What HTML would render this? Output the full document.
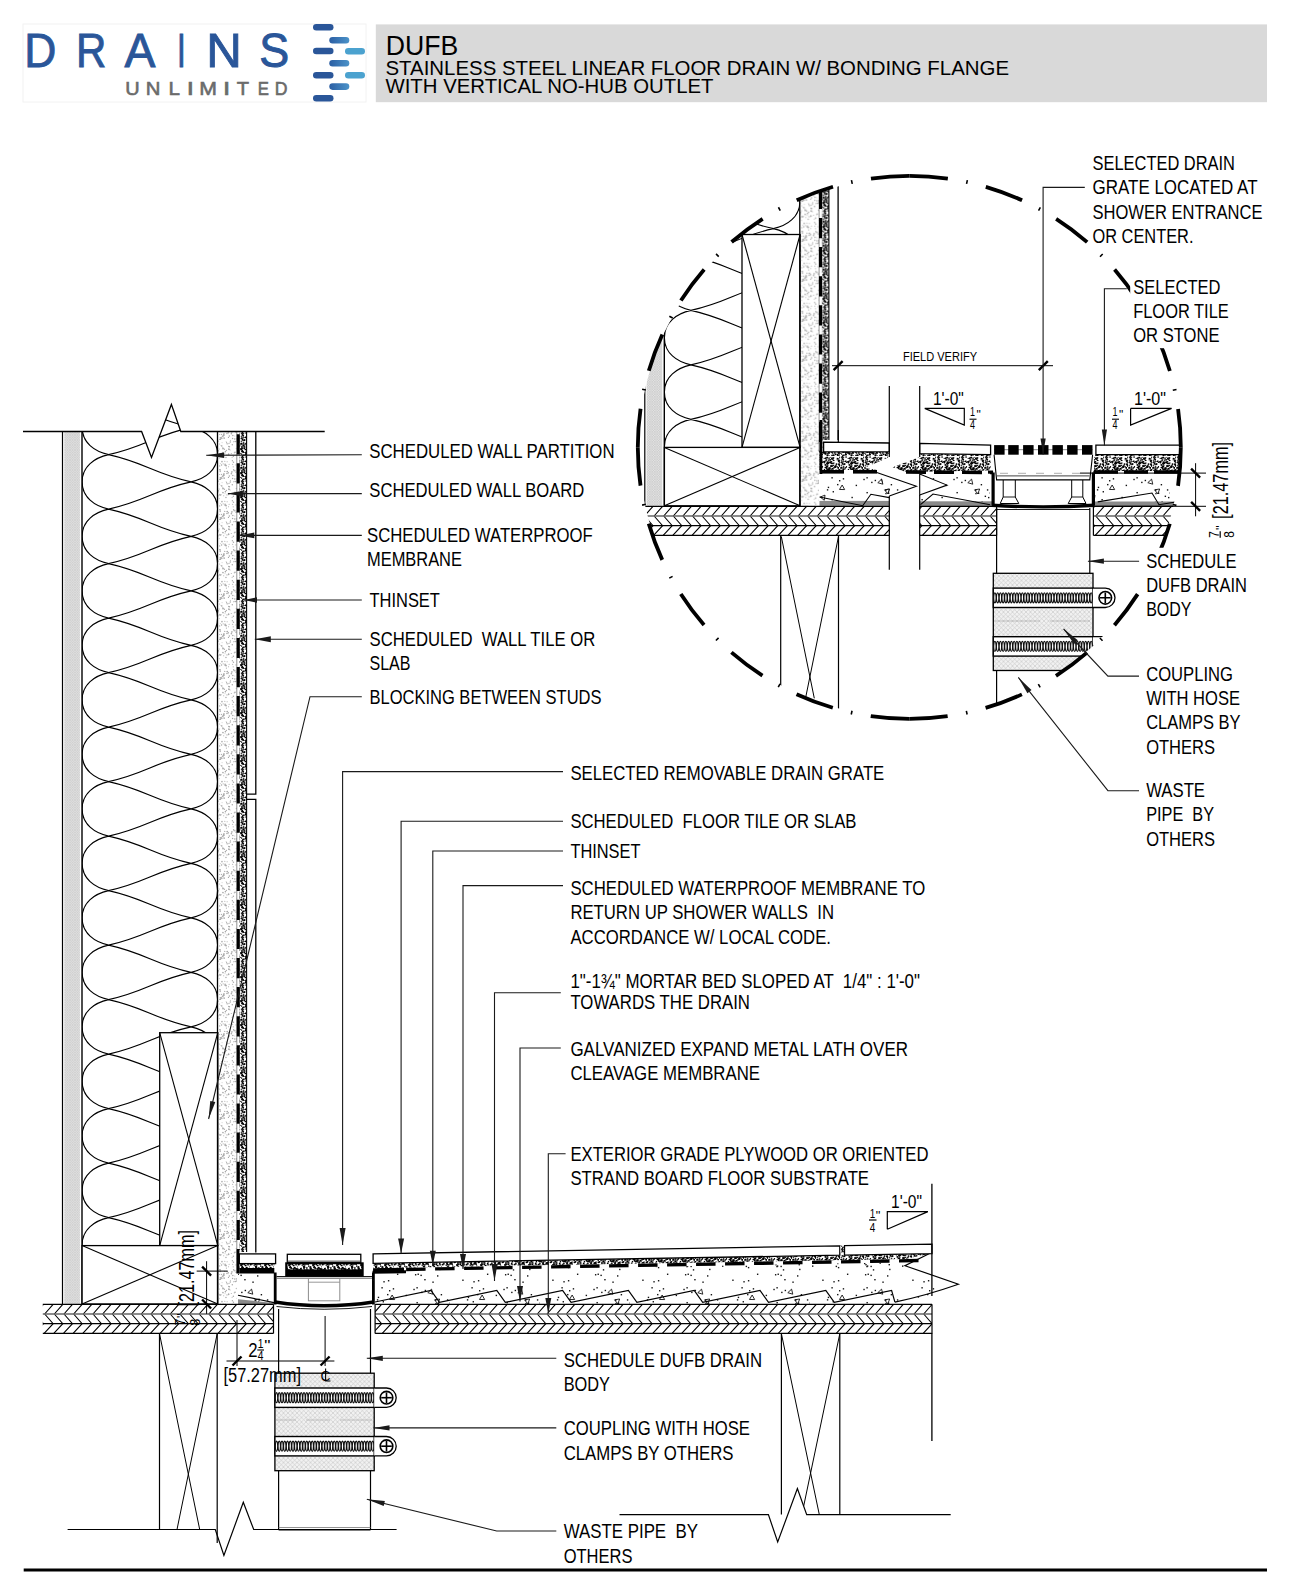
<!DOCTYPE html><html><head><meta charset="utf-8"><style>html,body{margin:0;padding:0;background:#fff;}svg{display:block;}</style></head><body><svg width="1290" height="1572" viewBox="0 0 1290 1572" style="font-family:&quot;Liberation Sans&quot;, sans-serif">
<defs><pattern id="gyp" patternUnits="userSpaceOnUse" width="40" height="40"><circle cx="5.37" cy="33.9" r="0.76" fill="#a8a8a8"/><circle cx="10.2" cy="19.82" r="0.63" fill="#a8a8a8"/><circle cx="26.06" cy="31.55" r="0.49" fill="#a8a8a8"/><circle cx="1.13" cy="33.43" r="0.62" fill="#a8a8a8"/><circle cx="30.49" cy="0.08" r="0.63" fill="#a8a8a8"/><circle cx="28.86" cy="9.15" r="0.83" fill="#a8a8a8"/><circle cx="36.06" cy="1.22" r="0.46" fill="#a8a8a8"/><circle cx="21.66" cy="37.57" r="0.6" fill="#a8a8a8"/><circle cx="8.66" cy="16.88" r="0.46" fill="#a8a8a8"/><circle cx="8.87" cy="17.52" r="0.65" fill="#a8a8a8"/><circle cx="9.32" cy="9.23" r="0.54" fill="#a8a8a8"/><circle cx="18.38" cy="11.59" r="0.46" fill="#a8a8a8"/><circle cx="33.5" cy="22.26" r="0.71" fill="#a8a8a8"/><circle cx="7.44" cy="39.7" r="0.79" fill="#a8a8a8"/><circle cx="4.84" cy="13.31" r="0.74" fill="#a8a8a8"/><circle cx="28.45" cy="37.46" r="0.62" fill="#a8a8a8"/><circle cx="33.2" cy="26.81" r="0.57" fill="#a8a8a8"/><circle cx="23.5" cy="35.3" r="0.79" fill="#a8a8a8"/><circle cx="20.21" cy="23.56" r="0.46" fill="#a8a8a8"/><circle cx="9.71" cy="31.9" r="0.62" fill="#a8a8a8"/><circle cx="6.92" cy="21.95" r="0.73" fill="#a8a8a8"/><circle cx="26.98" cy="14.99" r="0.63" fill="#a8a8a8"/><circle cx="20.34" cy="31.14" r="0.66" fill="#a8a8a8"/><circle cx="15.73" cy="19.59" r="0.46" fill="#a8a8a8"/><circle cx="1.74" cy="28.14" r="0.84" fill="#a8a8a8"/><circle cx="23.73" cy="15.74" r="0.52" fill="#a8a8a8"/><circle cx="20.09" cy="39.28" r="0.76" fill="#a8a8a8"/><circle cx="21.58" cy="34.41" r="0.54" fill="#a8a8a8"/><circle cx="20.55" cy="38.1" r="0.68" fill="#a8a8a8"/><circle cx="18.37" cy="10.77" r="0.67" fill="#a8a8a8"/><circle cx="38.28" cy="0.23" r="0.76" fill="#a8a8a8"/><circle cx="32.82" cy="35.45" r="0.75" fill="#a8a8a8"/><circle cx="32.37" cy="20.75" r="0.67" fill="#a8a8a8"/><circle cx="17.04" cy="2.24" r="0.8" fill="#a8a8a8"/><circle cx="22.8" cy="7.99" r="0.65" fill="#a8a8a8"/><circle cx="19.4" cy="14.27" r="0.59" fill="#a8a8a8"/><circle cx="21.54" cy="24.94" r="0.69" fill="#a8a8a8"/><circle cx="18.33" cy="1.12" r="0.54" fill="#a8a8a8"/><circle cx="7.09" cy="23.38" r="0.79" fill="#a8a8a8"/><circle cx="31.94" cy="31.88" r="0.78" fill="#a8a8a8"/><circle cx="10.21" cy="33.67" r="0.72" fill="#a8a8a8"/><circle cx="3.33" cy="0.67" r="0.46" fill="#a8a8a8"/><circle cx="30.22" cy="9.98" r="0.49" fill="#a8a8a8"/><circle cx="24.99" cy="13.78" r="0.48" fill="#a8a8a8"/><circle cx="6.39" cy="21.1" r="0.52" fill="#a8a8a8"/><circle cx="10.92" cy="28.46" r="0.63" fill="#a8a8a8"/><circle cx="12.88" cy="18.95" r="0.46" fill="#a8a8a8"/><circle cx="15.46" cy="16.84" r="0.53" fill="#a8a8a8"/><circle cx="4.35" cy="35.99" r="0.65" fill="#a8a8a8"/><circle cx="8.36" cy="24.23" r="0.78" fill="#a8a8a8"/><circle cx="0.83" cy="0.71" r="0.51" fill="#a8a8a8"/><circle cx="28.75" cy="6.41" r="0.73" fill="#a8a8a8"/><circle cx="27.13" cy="21.79" r="0.54" fill="#a8a8a8"/><circle cx="39.02" cy="31.91" r="0.66" fill="#a8a8a8"/><circle cx="8.93" cy="25.94" r="0.61" fill="#a8a8a8"/><circle cx="23.03" cy="12.85" r="0.7" fill="#a8a8a8"/><circle cx="2.35" cy="11.94" r="0.84" fill="#a8a8a8"/><circle cx="35.02" cy="12.26" r="0.79" fill="#a8a8a8"/><circle cx="12.41" cy="37.57" r="0.75" fill="#a8a8a8"/><circle cx="16.65" cy="10.09" r="0.45" fill="#a8a8a8"/><circle cx="35.15" cy="1.52" r="0.78" fill="#a8a8a8"/><circle cx="38.49" cy="22.81" r="0.52" fill="#a8a8a8"/><circle cx="34.71" cy="38.95" r="0.73" fill="#a8a8a8"/><circle cx="20.35" cy="15.12" r="0.59" fill="#a8a8a8"/><circle cx="8.23" cy="26.97" r="0.62" fill="#a8a8a8"/><circle cx="7.76" cy="4.18" r="0.72" fill="#a8a8a8"/><circle cx="11.84" cy="19.99" r="0.58" fill="#a8a8a8"/><circle cx="34.86" cy="35.99" r="0.46" fill="#a8a8a8"/><circle cx="8.03" cy="13.11" r="0.84" fill="#a8a8a8"/><circle cx="31.31" cy="13.56" r="0.54" fill="#a8a8a8"/><circle cx="26.98" cy="33.51" r="0.82" fill="#a8a8a8"/><circle cx="13.75" cy="35.3" r="0.72" fill="#a8a8a8"/><circle cx="19.38" cy="39.42" r="0.54" fill="#a8a8a8"/><circle cx="29.02" cy="3.39" r="0.52" fill="#a8a8a8"/><circle cx="36.44" cy="8.52" r="0.75" fill="#a8a8a8"/><circle cx="24.01" cy="33.65" r="0.6" fill="#a8a8a8"/><circle cx="13.61" cy="11.65" r="0.8" fill="#a8a8a8"/><circle cx="24.16" cy="38.17" r="0.8" fill="#a8a8a8"/><circle cx="5.41" cy="22.05" r="0.49" fill="#a8a8a8"/><circle cx="1.57" cy="2.93" r="0.8" fill="#a8a8a8"/><circle cx="31.52" cy="33.14" r="0.59" fill="#a8a8a8"/><circle cx="24.61" cy="31.28" r="0.6" fill="#a8a8a8"/><circle cx="22.83" cy="8.95" r="0.48" fill="#a8a8a8"/><circle cx="10.67" cy="35.63" r="0.68" fill="#a8a8a8"/><circle cx="37" cy="18.31" r="0.56" fill="#a8a8a8"/><circle cx="31.48" cy="33.11" r="0.45" fill="#a8a8a8"/><circle cx="26.82" cy="3.67" r="0.5" fill="#a8a8a8"/><circle cx="35.4" cy="1.6" r="0.55" fill="#a8a8a8"/><circle cx="39.53" cy="16.84" r="0.5" fill="#a8a8a8"/><circle cx="6.7" cy="9.66" r="0.75" fill="#a8a8a8"/><circle cx="4.11" cy="36.43" r="0.6" fill="#a8a8a8"/><circle cx="38.81" cy="36.37" r="0.57" fill="#a8a8a8"/><circle cx="10.14" cy="19.08" r="0.49" fill="#a8a8a8"/><circle cx="26.08" cy="1.58" r="0.45" fill="#a8a8a8"/><circle cx="39.3" cy="11.82" r="0.69" fill="#a8a8a8"/><circle cx="17.99" cy="12.53" r="0.48" fill="#a8a8a8"/><circle cx="36.54" cy="38.79" r="0.84" fill="#a8a8a8"/><circle cx="4.45" cy="8.61" r="0.7" fill="#a8a8a8"/><circle cx="39.2" cy="21.72" r="0.73" fill="#a8a8a8"/><circle cx="26.47" cy="10.36" r="0.67" fill="#a8a8a8"/><circle cx="12.29" cy="9.86" r="0.48" fill="#a8a8a8"/><circle cx="11.23" cy="39.34" r="0.63" fill="#a8a8a8"/><circle cx="26.08" cy="25.74" r="0.83" fill="#a8a8a8"/><circle cx="15.62" cy="12.27" r="0.58" fill="#a8a8a8"/><circle cx="12.67" cy="33.89" r="0.81" fill="#a8a8a8"/><circle cx="12.11" cy="13.37" r="0.67" fill="#a8a8a8"/><circle cx="23.16" cy="23.84" r="0.55" fill="#a8a8a8"/><circle cx="0.81" cy="9.75" r="0.48" fill="#a8a8a8"/><circle cx="22.05" cy="2.84" r="0.48" fill="#a8a8a8"/><circle cx="25.42" cy="11.63" r="0.77" fill="#a8a8a8"/><circle cx="19.73" cy="34.51" r="0.51" fill="#a8a8a8"/><circle cx="20.06" cy="31.8" r="0.48" fill="#a8a8a8"/><circle cx="37.97" cy="6.93" r="0.76" fill="#a8a8a8"/><circle cx="39.4" cy="32.86" r="0.58" fill="#a8a8a8"/><circle cx="4.28" cy="20.57" r="0.82" fill="#a8a8a8"/><circle cx="11.74" cy="35.75" r="0.51" fill="#a8a8a8"/><circle cx="36.42" cy="1.27" r="0.58" fill="#a8a8a8"/><circle cx="36.12" cy="32.15" r="0.81" fill="#a8a8a8"/><circle cx="33.63" cy="29.85" r="0.73" fill="#a8a8a8"/><circle cx="7.13" cy="17.31" r="0.51" fill="#a8a8a8"/><circle cx="28.59" cy="26.71" r="0.55" fill="#a8a8a8"/><circle cx="2.58" cy="38.54" r="0.77" fill="#a8a8a8"/><circle cx="21.97" cy="21.66" r="0.79" fill="#a8a8a8"/><circle cx="18.13" cy="15.83" r="0.59" fill="#a8a8a8"/><circle cx="10.32" cy="0.98" r="0.71" fill="#a8a8a8"/><circle cx="16.67" cy="22.82" r="0.47" fill="#a8a8a8"/><circle cx="14.2" cy="5.53" r="0.5" fill="#a8a8a8"/><circle cx="10.36" cy="33.16" r="0.61" fill="#a8a8a8"/><circle cx="16.04" cy="24.5" r="0.54" fill="#a8a8a8"/><circle cx="0.3" cy="21.15" r="0.65" fill="#a8a8a8"/><circle cx="25.95" cy="17.53" r="0.72" fill="#a8a8a8"/><circle cx="29.26" cy="9.53" r="0.65" fill="#a8a8a8"/><circle cx="19.15" cy="9" r="0.61" fill="#a8a8a8"/><circle cx="22.42" cy="36.28" r="0.82" fill="#a8a8a8"/><circle cx="11.01" cy="25.86" r="0.47" fill="#a8a8a8"/><circle cx="2.86" cy="20.47" r="0.8" fill="#a8a8a8"/><circle cx="6.38" cy="30.64" r="0.8" fill="#a8a8a8"/><circle cx="12.47" cy="27.7" r="0.79" fill="#a8a8a8"/><circle cx="14.86" cy="28.05" r="0.74" fill="#a8a8a8"/><circle cx="23.78" cy="34.25" r="0.81" fill="#a8a8a8"/><circle cx="38.4" cy="22.85" r="0.52" fill="#a8a8a8"/><circle cx="10.02" cy="8.7" r="0.68" fill="#a8a8a8"/><circle cx="30.31" cy="2.09" r="0.72" fill="#a8a8a8"/><circle cx="28.69" cy="13.92" r="0.66" fill="#a8a8a8"/><circle cx="6.59" cy="29.2" r="0.47" fill="#a8a8a8"/><circle cx="39.25" cy="32.32" r="0.7" fill="#a8a8a8"/><circle cx="10.7" cy="36.51" r="0.83" fill="#a8a8a8"/><circle cx="5.57" cy="31.03" r="0.79" fill="#a8a8a8"/><circle cx="26.39" cy="28.02" r="0.63" fill="#a8a8a8"/><circle cx="36.97" cy="38.85" r="0.6" fill="#a8a8a8"/><circle cx="32.11" cy="17.32" r="0.52" fill="#a8a8a8"/><circle cx="13.02" cy="5.05" r="0.81" fill="#a8a8a8"/><circle cx="38.38" cy="4.77" r="0.69" fill="#a8a8a8"/><circle cx="16.33" cy="4.72" r="0.57" fill="#a8a8a8"/><circle cx="9.93" cy="29.98" r="0.45" fill="#a8a8a8"/><circle cx="7.59" cy="17.55" r="0.46" fill="#a8a8a8"/><circle cx="25.1" cy="24.23" r="0.78" fill="#a8a8a8"/><circle cx="8.26" cy="11.39" r="0.67" fill="#a8a8a8"/><circle cx="10.93" cy="23.43" r="0.55" fill="#a8a8a8"/><circle cx="27.34" cy="31.64" r="0.77" fill="#a8a8a8"/><circle cx="38.94" cy="21.82" r="0.65" fill="#a8a8a8"/><circle cx="34.23" cy="30.76" r="0.68" fill="#a8a8a8"/><circle cx="15.33" cy="11.36" r="0.49" fill="#a8a8a8"/><circle cx="32.3" cy="4.72" r="0.75" fill="#a8a8a8"/><circle cx="21.81" cy="38.6" r="0.75" fill="#a8a8a8"/><circle cx="38.94" cy="5.46" r="0.65" fill="#a8a8a8"/><circle cx="22.9" cy="12.45" r="0.65" fill="#a8a8a8"/><circle cx="14.27" cy="21.14" r="0.45" fill="#a8a8a8"/><circle cx="17.69" cy="17.98" r="0.57" fill="#a8a8a8"/><circle cx="15.98" cy="31.32" r="0.72" fill="#a8a8a8"/><circle cx="19.69" cy="25.91" r="0.6" fill="#a8a8a8"/><circle cx="8.16" cy="0.16" r="0.56" fill="#a8a8a8"/><circle cx="23.93" cy="35.27" r="0.78" fill="#a8a8a8"/><circle cx="20.44" cy="39.48" r="0.63" fill="#a8a8a8"/><circle cx="33.38" cy="16.36" r="0.75" fill="#a8a8a8"/><circle cx="39.5" cy="12.21" r="0.52" fill="#a8a8a8"/><circle cx="24.8" cy="21.24" r="0.59" fill="#a8a8a8"/><circle cx="0.14" cy="15.57" r="0.62" fill="#a8a8a8"/><circle cx="16.21" cy="34.45" r="0.68" fill="#a8a8a8"/><circle cx="29.35" cy="35.92" r="0.75" fill="#a8a8a8"/><circle cx="19.71" cy="29.83" r="0.71" fill="#a8a8a8"/><circle cx="25.95" cy="25.19" r="0.61" fill="#a8a8a8"/><circle cx="25.17" cy="25.35" r="0.82" fill="#a8a8a8"/><circle cx="31.3" cy="33.85" r="0.76" fill="#a8a8a8"/><circle cx="32.61" cy="24.22" r="0.59" fill="#a8a8a8"/><circle cx="10.58" cy="28.32" r="0.8" fill="#a8a8a8"/><circle cx="21.77" cy="6.08" r="0.78" fill="#a8a8a8"/><circle cx="19.38" cy="18.68" r="0.47" fill="#a8a8a8"/><circle cx="20.41" cy="29.79" r="0.62" fill="#a8a8a8"/><circle cx="14.21" cy="26.27" r="0.46" fill="#a8a8a8"/><circle cx="20.29" cy="37.85" r="0.73" fill="#a8a8a8"/><circle cx="16.08" cy="27.56" r="0.69" fill="#a8a8a8"/><circle cx="8.36" cy="8.31" r="0.8" fill="#a8a8a8"/><circle cx="10.76" cy="3" r="0.78" fill="#a8a8a8"/><circle cx="20.93" cy="14.73" r="0.65" fill="#a8a8a8"/><circle cx="29.47" cy="6.74" r="0.71" fill="#a8a8a8"/><circle cx="28.54" cy="32.6" r="0.56" fill="#a8a8a8"/><circle cx="24.39" cy="9.28" r="0.67" fill="#a8a8a8"/><circle cx="6.89" cy="31.59" r="0.8" fill="#a8a8a8"/><circle cx="13.19" cy="8.89" r="0.84" fill="#a8a8a8"/><circle cx="28.27" cy="33.75" r="0.46" fill="#a8a8a8"/><circle cx="35.98" cy="24.9" r="0.58" fill="#a8a8a8"/><circle cx="17.27" cy="30.46" r="0.76" fill="#a8a8a8"/><circle cx="7.6" cy="25.04" r="0.52" fill="#a8a8a8"/><circle cx="38.92" cy="17.74" r="0.82" fill="#a8a8a8"/><circle cx="29.13" cy="24.25" r="0.55" fill="#a8a8a8"/><circle cx="21.06" cy="5.54" r="0.51" fill="#a8a8a8"/><circle cx="28.63" cy="14.44" r="0.75" fill="#a8a8a8"/><circle cx="9.62" cy="28.73" r="0.74" fill="#a8a8a8"/><circle cx="12.22" cy="4.26" r="0.61" fill="#a8a8a8"/><circle cx="19.69" cy="4" r="0.52" fill="#a8a8a8"/><circle cx="2.21" cy="23.9" r="0.81" fill="#a8a8a8"/><circle cx="8.66" cy="1.39" r="0.73" fill="#a8a8a8"/><circle cx="32.6" cy="38.56" r="0.7" fill="#a8a8a8"/><circle cx="13.7" cy="33.51" r="0.5" fill="#a8a8a8"/><circle cx="27.71" cy="3.81" r="0.61" fill="#a8a8a8"/><circle cx="19.8" cy="15.12" r="0.52" fill="#a8a8a8"/><circle cx="9.27" cy="32.81" r="0.64" fill="#a8a8a8"/><circle cx="23.2" cy="8.48" r="0.74" fill="#a8a8a8"/><circle cx="13.2" cy="23.74" r="0.81" fill="#a8a8a8"/><circle cx="39.78" cy="1.85" r="0.77" fill="#a8a8a8"/><circle cx="34.3" cy="12.78" r="0.6" fill="#a8a8a8"/><circle cx="23.21" cy="36.75" r="0.61" fill="#a8a8a8"/><circle cx="35.2" cy="30.34" r="0.51" fill="#a8a8a8"/><circle cx="36.55" cy="0.61" r="0.51" fill="#a8a8a8"/><circle cx="26.59" cy="2.28" r="0.6" fill="#a8a8a8"/><circle cx="5.2" cy="18.52" r="0.79" fill="#a8a8a8"/><circle cx="36.24" cy="1.42" r="0.47" fill="#a8a8a8"/><circle cx="33.62" cy="1.71" r="0.56" fill="#a8a8a8"/><circle cx="4.7" cy="3.64" r="0.46" fill="#a8a8a8"/></pattern><pattern id="thin" patternUnits="userSpaceOnUse" width="24" height="24"><rect width="24" height="24" fill="#fff"/><rect x="22.94" y="22.75" width="0.86" height="0.88" fill="#000"/><rect x="20.05" y="17.66" width="1.47" height="1.11" fill="#000"/><rect x="14.54" y="14.56" width="1.38" height="0.96" fill="#000"/><rect x="10.34" y="9.44" width="1.52" height="1.79" fill="#000"/><rect x="22.79" y="13.06" width="1.24" height="1.07" fill="#000"/><rect x="0.86" y="0.66" width="1.26" height="1.12" fill="#000"/><rect x="9.12" y="21.4" width="1.33" height="1.36" fill="#000"/><rect x="5.67" y="0.57" width="1.13" height="0.94" fill="#000"/><rect x="12.25" y="23.97" width="1.47" height="0.98" fill="#000"/><rect x="21.45" y="19.12" width="1.53" height="1.71" fill="#000"/><rect x="18.31" y="18.95" width="1.15" height="1.78" fill="#000"/><rect x="23.09" y="3.87" width="1.55" height="1.52" fill="#000"/><rect x="11.07" y="12.73" width="1.29" height="1.72" fill="#000"/><rect x="12.02" y="19.96" width="1.15" height="1.68" fill="#000"/><rect x="21.59" y="11.06" width="1.37" height="1.72" fill="#000"/><rect x="17.37" y="11.68" width="1.02" height="1.12" fill="#000"/><rect x="16.79" y="3.99" width="1.71" height="1.07" fill="#000"/><rect x="21.87" y="7.43" width="1.76" height="1.51" fill="#000"/><rect x="12.1" y="12.43" width="1.45" height="1.39" fill="#000"/><rect x="7.48" y="4.99" width="1.31" height="1.73" fill="#000"/><rect x="14.96" y="1.81" width="1.62" height="1.53" fill="#000"/><rect x="21.78" y="4.59" width="1.54" height="0.86" fill="#000"/><rect x="15.67" y="6.55" width="1.03" height="1.68" fill="#000"/><rect x="2.55" y="12.54" width="1.65" height="1.04" fill="#000"/><rect x="5.05" y="21.13" width="1.22" height="1.52" fill="#000"/><rect x="0.76" y="8.7" width="0.97" height="1.47" fill="#000"/><rect x="1.99" y="22.91" width="0.83" height="1.53" fill="#000"/><rect x="0.51" y="6.14" width="1.61" height="0.96" fill="#000"/><rect x="4.41" y="16.6" width="1.19" height="0.84" fill="#000"/><rect x="23.76" y="3.63" width="0.84" height="1.14" fill="#000"/><rect x="14.77" y="17.82" width="0.91" height="1.14" fill="#000"/><rect x="0.74" y="10.77" width="1.57" height="1.54" fill="#000"/><rect x="21.65" y="18.14" width="1.66" height="1.51" fill="#000"/><rect x="11.35" y="5.41" width="1.46" height="1.12" fill="#000"/><rect x="2.45" y="10.75" width="1.67" height="0.93" fill="#000"/><rect x="14.04" y="9.43" width="1.31" height="0.94" fill="#000"/><rect x="23.03" y="6.22" width="1.41" height="1.22" fill="#000"/><rect x="0.43" y="13.39" width="0.94" height="0.86" fill="#000"/><rect x="0.81" y="3.87" width="0.9" height="1.44" fill="#000"/><rect x="12.2" y="23.6" width="1.73" height="1.79" fill="#000"/><rect x="5.58" y="10.67" width="1.05" height="1.39" fill="#000"/><rect x="14.98" y="19.2" width="1.51" height="1.06" fill="#000"/><rect x="10.15" y="12.63" width="0.8" height="0.84" fill="#000"/><rect x="9.81" y="2.67" width="1.52" height="1.04" fill="#000"/><rect x="2.39" y="4.36" width="1.03" height="1.02" fill="#000"/><rect x="12.5" y="11.15" width="1.11" height="1.44" fill="#000"/><rect x="5.1" y="21.76" width="1.76" height="1.53" fill="#000"/><rect x="10.41" y="12.28" width="1.38" height="0.85" fill="#000"/><rect x="10.03" y="12.6" width="0.98" height="0.89" fill="#000"/><rect x="19.26" y="8.79" width="1.32" height="1.72" fill="#000"/><rect x="14.65" y="6.95" width="1.78" height="1.17" fill="#000"/><rect x="0.46" y="16.45" width="0.9" height="1.11" fill="#000"/><rect x="20.17" y="16.14" width="0.82" height="1.25" fill="#000"/><rect x="9.86" y="11.66" width="1.01" height="1.39" fill="#000"/><rect x="1.77" y="6.82" width="1.17" height="1.74" fill="#000"/><rect x="1.84" y="18.12" width="0.99" height="1.37" fill="#000"/><rect x="9.4" y="11.12" width="1.55" height="1.2" fill="#000"/><rect x="2.92" y="2.92" width="0.88" height="1.65" fill="#000"/><rect x="15.38" y="23.03" width="1.49" height="0.82" fill="#000"/><rect x="15.82" y="18.65" width="1.52" height="1.3" fill="#000"/><rect x="8.58" y="10.97" width="1.6" height="1.07" fill="#000"/><rect x="12.63" y="11.46" width="1.75" height="1.6" fill="#000"/><rect x="22.37" y="20.06" width="1.1" height="1.03" fill="#000"/><rect x="11.73" y="6.23" width="1.23" height="1.48" fill="#000"/><rect x="22.05" y="14.06" width="1.62" height="0.9" fill="#000"/><rect x="8.55" y="23.95" width="0.95" height="1.22" fill="#000"/><rect x="1.6" y="2.07" width="1.7" height="1.79" fill="#000"/><rect x="15.55" y="3.08" width="1.1" height="1.03" fill="#000"/><rect x="16.1" y="16.35" width="1.24" height="1.32" fill="#000"/><rect x="2.69" y="12.98" width="1.75" height="1.56" fill="#000"/><rect x="2.31" y="12.4" width="1.52" height="1.06" fill="#000"/><rect x="21.48" y="11.06" width="1.5" height="1.2" fill="#000"/><rect x="23.88" y="18.79" width="1.37" height="0.94" fill="#000"/><rect x="10.59" y="0.71" width="1.4" height="1.68" fill="#000"/><rect x="4.33" y="12.24" width="1.28" height="1.2" fill="#000"/><rect x="17.05" y="22.48" width="1.51" height="1.27" fill="#000"/><rect x="23.09" y="7.94" width="1.55" height="1.46" fill="#000"/><rect x="18.28" y="20.45" width="1.02" height="1.42" fill="#000"/><rect x="9.67" y="16.01" width="1.78" height="1.43" fill="#000"/><rect x="0.28" y="11.15" width="1.51" height="1.68" fill="#000"/><rect x="15.6" y="19.59" width="0.82" height="1.74" fill="#000"/><rect x="17.51" y="14.55" width="1.71" height="1.68" fill="#000"/><rect x="2.41" y="19.57" width="1.57" height="1" fill="#000"/><rect x="17.86" y="14.07" width="0.99" height="1.6" fill="#000"/><rect x="3.31" y="14.7" width="1.23" height="1.05" fill="#000"/><rect x="13.59" y="11.21" width="1" height="1.77" fill="#000"/><rect x="1.75" y="0.07" width="1.29" height="1.64" fill="#000"/><rect x="15.8" y="18.11" width="1.29" height="1.47" fill="#000"/><rect x="8.04" y="6.41" width="1.3" height="0.83" fill="#000"/><rect x="1.92" y="18.1" width="0.97" height="1.55" fill="#000"/><rect x="18.83" y="9.71" width="1.47" height="1.59" fill="#000"/><rect x="20.74" y="3.24" width="0.96" height="1.18" fill="#000"/><rect x="11.15" y="7.08" width="0.81" height="1.36" fill="#000"/><rect x="23.21" y="8.8" width="1.34" height="1.18" fill="#000"/><rect x="10.63" y="20.89" width="1.11" height="1.45" fill="#000"/><rect x="11.61" y="12.93" width="1.71" height="0.88" fill="#000"/><rect x="19.78" y="7.3" width="1.45" height="1.6" fill="#000"/><rect x="15.68" y="9.43" width="1.64" height="0.89" fill="#000"/><rect x="15.2" y="9.39" width="1.33" height="1.65" fill="#000"/><rect x="19.15" y="15.09" width="1.11" height="1.03" fill="#000"/><rect x="10.98" y="5.57" width="1.08" height="1.76" fill="#000"/><rect x="2.69" y="19.65" width="1.18" height="1.16" fill="#000"/><rect x="7.64" y="1.86" width="1.26" height="0.97" fill="#000"/><rect x="10.61" y="7.01" width="1.69" height="1.72" fill="#000"/><rect x="10.61" y="15.35" width="1.73" height="1.13" fill="#000"/><rect x="2.39" y="5.71" width="0.99" height="1.48" fill="#000"/><rect x="8.97" y="8.55" width="1.6" height="1.03" fill="#000"/><rect x="19.4" y="15.19" width="1.2" height="1.62" fill="#000"/><rect x="8.21" y="21.09" width="1.73" height="1.3" fill="#000"/><rect x="16.56" y="22.77" width="1.54" height="1.55" fill="#000"/><rect x="20.86" y="22.45" width="1.55" height="1.78" fill="#000"/><rect x="7" y="14.94" width="1.47" height="1.17" fill="#000"/><rect x="9.48" y="4.19" width="1.76" height="1.15" fill="#000"/><rect x="11.44" y="21.45" width="0.99" height="1.76" fill="#000"/><rect x="3.05" y="0.67" width="1.15" height="1.16" fill="#000"/><rect x="22.02" y="21.2" width="1.56" height="1.24" fill="#000"/><rect x="13.02" y="5.68" width="1.63" height="1.19" fill="#000"/><rect x="6.83" y="15.31" width="0.95" height="1.12" fill="#000"/><rect x="22.23" y="2.28" width="0.94" height="1" fill="#000"/><rect x="6.02" y="10.09" width="1.05" height="1.14" fill="#000"/><rect x="5.92" y="5.76" width="1.41" height="1.14" fill="#000"/><rect x="8.95" y="18.43" width="0.86" height="0.94" fill="#000"/><rect x="20.42" y="10.31" width="1.58" height="0.93" fill="#000"/><rect x="12.55" y="20.29" width="1.14" height="1.57" fill="#000"/><rect x="14.65" y="9.47" width="1.8" height="1.19" fill="#000"/><rect x="11.37" y="14.87" width="1.12" height="1.64" fill="#000"/><rect x="14.34" y="14.11" width="1.34" height="1.78" fill="#000"/><rect x="23.73" y="20.18" width="1.25" height="1.21" fill="#000"/><rect x="12.59" y="1.11" width="0.91" height="1.8" fill="#000"/><rect x="3.08" y="22.5" width="1.48" height="1.72" fill="#000"/><rect x="1.86" y="7.34" width="1.6" height="0.81" fill="#000"/><rect x="2.54" y="8.42" width="0.97" height="0.95" fill="#000"/><rect x="16.07" y="2.21" width="1.77" height="1.45" fill="#000"/><rect x="1.19" y="21.57" width="1.04" height="1.28" fill="#000"/><rect x="13.41" y="3.33" width="1.3" height="0.86" fill="#000"/><rect x="4.79" y="22.05" width="1.62" height="1.32" fill="#000"/><rect x="16.36" y="21.01" width="0.94" height="1.29" fill="#000"/><rect x="3.16" y="2.8" width="0.91" height="1.01" fill="#000"/><rect x="1.28" y="5.17" width="1.18" height="1.42" fill="#000"/><rect x="20.61" y="21.7" width="1.52" height="1.31" fill="#000"/><rect x="22.01" y="3.91" width="0.91" height="1.62" fill="#000"/><rect x="15.05" y="5.05" width="1.18" height="1.1" fill="#000"/><rect x="10.34" y="10.27" width="1.2" height="1.6" fill="#000"/><rect x="19.48" y="13.5" width="1.27" height="1.08" fill="#000"/><rect x="18.37" y="23.69" width="1.03" height="1.5" fill="#000"/><rect x="16.78" y="15.8" width="0.83" height="1.35" fill="#000"/><rect x="4.85" y="4.66" width="1.38" height="1.45" fill="#000"/><rect x="15.01" y="17.81" width="1.5" height="1.28" fill="#000"/><rect x="1.15" y="18.53" width="1.62" height="1.64" fill="#000"/><rect x="14.35" y="0.92" width="1" height="0.91" fill="#000"/><rect x="15.26" y="13.06" width="0.99" height="1.76" fill="#000"/><rect x="23.47" y="21.58" width="1.26" height="1.09" fill="#000"/><rect x="5.01" y="19.78" width="1.5" height="1.08" fill="#000"/><rect x="21.66" y="13.65" width="1.21" height="1.22" fill="#000"/><rect x="17.29" y="10.93" width="1.46" height="0.92" fill="#000"/><rect x="16.86" y="6.53" width="1.71" height="1.01" fill="#000"/><rect x="8" y="12.91" width="1.19" height="1.33" fill="#000"/><rect x="22.17" y="4.83" width="1.57" height="1.49" fill="#000"/><rect x="18.87" y="10.74" width="1.25" height="1.15" fill="#000"/><rect x="11.36" y="6.11" width="0.99" height="1.28" fill="#000"/><rect x="4.61" y="11.26" width="1.37" height="1.11" fill="#000"/><rect x="4.09" y="14.52" width="1.66" height="1.02" fill="#000"/><rect x="14.78" y="15.81" width="1.68" height="1.48" fill="#000"/><rect x="7.39" y="4.98" width="1.64" height="1.1" fill="#000"/><rect x="0.3" y="20.89" width="1" height="1.11" fill="#000"/><rect x="7.65" y="6.14" width="1.52" height="1.14" fill="#000"/><rect x="10.57" y="10.06" width="1.63" height="0.82" fill="#000"/><rect x="13.92" y="3.16" width="0.95" height="1.41" fill="#000"/><rect x="9.02" y="1.56" width="1.39" height="1.71" fill="#000"/><rect x="15.48" y="11.89" width="1.6" height="1.72" fill="#000"/><rect x="3.63" y="7.18" width="1.76" height="1.73" fill="#000"/><rect x="4.87" y="16.89" width="1.67" height="1.39" fill="#000"/><rect x="16.85" y="12.58" width="1.03" height="1.01" fill="#000"/><rect x="1.49" y="15.98" width="0.94" height="1.42" fill="#000"/><rect x="9.39" y="10.47" width="1.77" height="1.19" fill="#000"/><rect x="11.39" y="9.12" width="1.02" height="1.02" fill="#000"/><rect x="12.78" y="19.62" width="0.89" height="1.75" fill="#000"/><rect x="16.19" y="1.29" width="1.51" height="1.2" fill="#000"/><rect x="12.35" y="2.42" width="1.31" height="1.32" fill="#000"/><rect x="18.78" y="13.94" width="1.5" height="1.53" fill="#000"/><rect x="5.31" y="0.59" width="1.28" height="0.93" fill="#000"/><rect x="3.4" y="7.72" width="1.34" height="1.42" fill="#000"/><rect x="15.51" y="22.62" width="0.9" height="1.36" fill="#000"/><rect x="2.08" y="16.08" width="1.24" height="0.94" fill="#000"/><rect x="7.45" y="15.85" width="1.27" height="1.74" fill="#000"/><rect x="8.52" y="8.16" width="1.72" height="1.41" fill="#000"/><rect x="2.57" y="18.82" width="1.16" height="1.75" fill="#000"/><rect x="15.26" y="19.32" width="1.7" height="1.31" fill="#000"/><rect x="23.21" y="0.61" width="1.14" height="1.64" fill="#000"/><rect x="0.2" y="16.14" width="1.8" height="1.52" fill="#000"/><rect x="20.69" y="1.84" width="1.34" height="1.41" fill="#000"/><rect x="10.45" y="10.07" width="1.59" height="0.96" fill="#000"/><rect x="1.08" y="14.23" width="1.77" height="1.63" fill="#000"/><rect x="16.16" y="7.07" width="1.7" height="0.84" fill="#000"/><rect x="5.92" y="18.91" width="1.69" height="1.2" fill="#000"/><rect x="21.82" y="2.66" width="1.4" height="0.87" fill="#000"/><rect x="5.6" y="4.56" width="0.81" height="1.21" fill="#000"/><rect x="12" y="6.74" width="1.45" height="0.85" fill="#000"/><rect x="12.42" y="12.67" width="1.2" height="1.71" fill="#000"/><rect x="3.04" y="10.25" width="1.26" height="1.17" fill="#000"/><rect x="23.37" y="13.72" width="1.32" height="1.24" fill="#000"/><rect x="10.5" y="22.82" width="1.6" height="1.45" fill="#000"/><rect x="3.9" y="14.27" width="0.93" height="1.15" fill="#000"/><rect x="0.55" y="16.92" width="1.78" height="1.44" fill="#000"/><rect x="13.67" y="6.01" width="1.24" height="1.26" fill="#000"/><rect x="10.15" y="6.47" width="1.02" height="1.55" fill="#000"/><rect x="22.86" y="19.71" width="1.42" height="0.83" fill="#000"/><rect x="7.25" y="20.16" width="1.77" height="1.35" fill="#000"/><rect x="13.65" y="16.47" width="1.05" height="1.51" fill="#000"/><rect x="8.76" y="20.33" width="1.26" height="1.46" fill="#000"/><rect x="13.35" y="12.83" width="1.26" height="1.75" fill="#000"/><rect x="18.12" y="10.08" width="1.31" height="1.7" fill="#000"/><rect x="17.93" y="15.67" width="1.76" height="0.92" fill="#000"/><rect x="14.35" y="14.98" width="1.25" height="1.76" fill="#000"/><rect x="23.22" y="9.37" width="1.42" height="1.57" fill="#000"/><rect x="16.71" y="8.71" width="1.6" height="1.15" fill="#000"/><rect x="3.53" y="15.95" width="1.45" height="1.21" fill="#000"/><rect x="11.97" y="23.71" width="1.61" height="1.21" fill="#000"/><rect x="21.88" y="13.69" width="1.2" height="1.45" fill="#000"/><rect x="18.81" y="21.51" width="1.47" height="1.47" fill="#000"/><rect x="9.62" y="0.97" width="1.25" height="0.91" fill="#000"/><rect x="22.61" y="8.7" width="1.41" height="1.53" fill="#000"/><rect x="4.29" y="20" width="1.13" height="0.88" fill="#000"/><rect x="14.39" y="9.66" width="1.72" height="1.24" fill="#000"/><rect x="2.27" y="0.44" width="0.83" height="1.29" fill="#000"/><rect x="17.14" y="1.23" width="1.13" height="1.28" fill="#000"/><rect x="21.54" y="23.29" width="1.68" height="1.44" fill="#000"/><rect x="13.8" y="5.35" width="1.41" height="0.97" fill="#000"/><rect x="7.28" y="19.92" width="1.37" height="1.53" fill="#000"/><rect x="11.17" y="6.71" width="1.3" height="1.37" fill="#000"/><rect x="5.8" y="20.29" width="1.78" height="0.98" fill="#000"/><rect x="5.81" y="19.47" width="1.52" height="1.02" fill="#000"/><rect x="14.06" y="5.72" width="1.66" height="1.39" fill="#000"/><rect x="12.26" y="3.88" width="1.21" height="1.27" fill="#000"/><rect x="8.68" y="4.32" width="1" height="1.5" fill="#000"/><rect x="22.2" y="20.25" width="1.42" height="1.59" fill="#000"/><rect x="3.21" y="5.04" width="1.5" height="0.8" fill="#000"/><rect x="2.01" y="18.69" width="1" height="0.98" fill="#000"/><rect x="9.49" y="20.08" width="0.81" height="1.68" fill="#000"/><rect x="7.32" y="13.7" width="1.27" height="0.92" fill="#000"/></pattern><pattern id="mort" patternUnits="userSpaceOnUse" width="90" height="90"><rect x="21.42" y="48.98" width="1.4" height="1.4" fill="#111"/><rect x="33.3" y="54.35" width="1.4" height="1.4" fill="#111"/><rect x="56.31" y="5.9" width="1.4" height="1.4" fill="#111"/><rect x="1.19" y="75.37" width="1.4" height="1.4" fill="#111"/><rect x="23.34" y="21.09" width="1.4" height="1.4" fill="#111"/><rect x="89.61" y="42.32" width="1.4" height="1.4" fill="#111"/><rect x="75.28" y="42.87" width="1.4" height="1.4" fill="#111"/><rect x="57.52" y="13.56" width="1.4" height="1.4" fill="#111"/><rect x="57.14" y="78.12" width="1.4" height="1.4" fill="#111"/><rect x="47.09" y="66.71" width="1.4" height="1.4" fill="#111"/><rect x="60.43" y="5.76" width="1.4" height="1.4" fill="#111"/><rect x="68.24" y="53.2" width="1.4" height="1.4" fill="#111"/><rect x="27.11" y="2.79" width="1.4" height="1.4" fill="#111"/><rect x="77.9" y="42.55" width="1.4" height="1.4" fill="#111"/><rect x="64.69" y="79.09" width="1.4" height="1.4" fill="#111"/><rect x="64.27" y="82.9" width="1.4" height="1.4" fill="#111"/><rect x="35.55" y="72.08" width="1.4" height="1.4" fill="#111"/><rect x="40.02" y="84.2" width="1.4" height="1.4" fill="#111"/><rect x="79.1" y="8.77" width="1.4" height="1.4" fill="#111"/><rect x="12.24" y="19.53" width="1.4" height="1.4" fill="#111"/><rect x="86.89" y="39.25" width="1.4" height="1.4" fill="#111"/><rect x="56.4" y="27.09" width="1.4" height="1.4" fill="#111"/><rect x="45.65" y="34.73" width="1.4" height="1.4" fill="#111"/><rect x="31.58" y="52.66" width="1.4" height="1.4" fill="#111"/><rect x="52.58" y="81.38" width="1.4" height="1.4" fill="#111"/><rect x="61.38" y="83.61" width="1.4" height="1.4" fill="#111"/><rect x="77.08" y="89.19" width="1.4" height="1.4" fill="#111"/><rect x="60.41" y="14.68" width="1.4" height="1.4" fill="#111"/><rect x="77.46" y="86.82" width="1.4" height="1.4" fill="#111"/><rect x="81.42" y="51.22" width="1.4" height="1.4" fill="#111"/><rect x="64.24" y="19" width="1.4" height="1.4" fill="#111"/><rect x="74.84" y="51.62" width="1.4" height="1.4" fill="#111"/><rect x="25.65" y="5.71" width="1.4" height="1.4" fill="#111"/><rect x="76.85" y="89.08" width="1.4" height="1.4" fill="#111"/><rect x="7.97" y="72.05" width="1.4" height="1.4" fill="#111"/><rect x="36.94" y="13.57" width="1.4" height="1.4" fill="#111"/><rect x="26.45" y="69.19" width="1.4" height="1.4" fill="#111"/><rect x="78.55" y="3.98" width="1.4" height="1.4" fill="#111"/><rect x="55.31" y="4.04" width="1.4" height="1.4" fill="#111"/><rect x="64.66" y="29.79" width="1.4" height="1.4" fill="#111"/><rect x="79.28" y="88.26" width="1.4" height="1.4" fill="#111"/><rect x="45.49" y="89.87" width="1.4" height="1.4" fill="#111"/><rect x="27.87" y="6.93" width="1.4" height="1.4" fill="#111"/><rect x="53.98" y="2.82" width="1.4" height="1.4" fill="#111"/><rect x="17.76" y="36.71" width="1.4" height="1.4" fill="#111"/><rect x="54.94" y="14.06" width="1.4" height="1.4" fill="#111"/><rect x="3.82" y="78.1" width="1.4" height="1.4" fill="#111"/><rect x="28.24" y="86.28" width="1.4" height="1.4" fill="#111"/><rect x="80.7" y="34" width="1.4" height="1.4" fill="#111"/><rect x="41.44" y="46.81" width="1.4" height="1.4" fill="#111"/><rect x="57.95" y="53.61" width="1.4" height="1.4" fill="#111"/><rect x="50.33" y="55.81" width="1.4" height="1.4" fill="#111"/><rect x="84.66" y="45.63" width="1.4" height="1.4" fill="#111"/><rect x="38.81" y="64.83" width="1.4" height="1.4" fill="#111"/><rect x="21.39" y="27.1" width="1.4" height="1.4" fill="#111"/><rect x="88" y="46.9" width="1.4" height="1.4" fill="#111"/><rect x="49.36" y="1.03" width="1.4" height="1.4" fill="#111"/><rect x="37.37" y="52.2" width="1.4" height="1.4" fill="#111"/><rect x="1.8" y="55.42" width="1.4" height="1.4" fill="#111"/><rect x="56.9" y="5.41" width="1.4" height="1.4" fill="#111"/><rect x="56.46" y="41.96" width="1.4" height="1.4" fill="#111"/><rect x="61.14" y="31.73" width="1.4" height="1.4" fill="#111"/><rect x="63.63" y="66.42" width="1.4" height="1.4" fill="#111"/><rect x="2" y="5.45" width="1.4" height="1.4" fill="#111"/><rect x="60.84" y="86.7" width="1.4" height="1.4" fill="#111"/><rect x="22.6" y="41.07" width="1.4" height="1.4" fill="#111"/><rect x="53.34" y="28.8" width="1.4" height="1.4" fill="#111"/><rect x="32.76" y="28.14" width="1.4" height="1.4" fill="#111"/><rect x="33.22" y="53.61" width="1.4" height="1.4" fill="#111"/><rect x="27.04" y="33.94" width="1.4" height="1.4" fill="#111"/><rect x="69.5" y="2.42" width="1.4" height="1.4" fill="#111"/><rect x="51.23" y="66.17" width="1.4" height="1.4" fill="#111"/><rect x="27.9" y="20.03" width="1.4" height="1.4" fill="#111"/><rect x="72.34" y="21.48" width="1.4" height="1.4" fill="#111"/><rect x="16.87" y="39.17" width="1.4" height="1.4" fill="#111"/><rect x="62.83" y="9.17" width="1.4" height="1.4" fill="#111"/><rect x="28.98" y="30.04" width="1.4" height="1.4" fill="#111"/><rect x="75.02" y="39.46" width="1.4" height="1.4" fill="#111"/><rect x="77" y="15.24" width="1.4" height="1.4" fill="#111"/><rect x="30.3" y="58.52" width="1.4" height="1.4" fill="#111"/><polygon points="77.8,43.86 74.53,39.82 79.66,39" fill="none" stroke="#111" stroke-width="0.9"/><polygon points="14.25,50.28 10.19,47.04 15.03,45.14" fill="none" stroke="#111" stroke-width="0.9"/><polygon points="71.99,76.17 67.79,73.12 72.53,71.01" fill="none" stroke="#111" stroke-width="0.9"/><polygon points="24.51,68.48 29.36,70.34 25.33,73.61" fill="none" stroke="#111" stroke-width="0.9"/><polygon points="72.78,34.19 67.81,32.7 71.58,29.13" fill="none" stroke="#111" stroke-width="0.9"/><polygon points="27.13,72.66 25.14,67.86 30.3,68.54" fill="none" stroke="#111" stroke-width="0.9"/><polygon points="29.47,39.47 32.15,35.02 34.67,39.57" fill="none" stroke="#111" stroke-width="0.9"/><polygon points="39.07,82.82 34.41,80.54 38.72,77.64" fill="none" stroke="#111" stroke-width="0.9"/><polygon points="5.57,80.17 4.09,85.15 0.52,81.38" fill="none" stroke="#111" stroke-width="0.9"/></pattern><pattern id="sheath" patternUnits="userSpaceOnUse" width="2.5" height="2.5"><rect width="2.5" height="2.5" fill="#e2e2e2"/><path d="M0,2.5 L2.5,0 M0,0 L2.5,2.5" stroke="#c4c4c4" stroke-width="0.5"/></pattern><pattern id="coup" patternUnits="userSpaceOnUse" width="4.5" height="4.5"><rect width="4.5" height="4.5" fill="#f1f1f1"/><path d="M0,4.5 L4.5,0 M-1,1 L1,-1 M3.5,5.5 L5.5,3.5 M0,0 L4.5,4.5 M-1,3.5 L1,5.5 M3.5,-1 L5.5,1" stroke="#c6c6c6" stroke-width="0.6"/></pattern><pattern id="thread" patternUnits="userSpaceOnUse" width="2.8" height="13"><rect width="2.8" height="13" fill="#fff"/><ellipse cx="1.4" cy="6.5" rx="1.2" ry="5.3" fill="none" stroke="#111" stroke-width="1.25"/></pattern></defs>
<rect width="1290" height="1572" fill="#fff"/>
<rect x="23" y="24" width="343" height="78" fill="#fff" stroke="#f2f2f2" stroke-width="1"/>
<text transform="translate(24.35,66.5) scale(0.92,1)" font-size="48.3" fill="#2a5699" stroke="#2a5699" stroke-width="0.9">D</text>
<text transform="translate(75.95,66.5) scale(0.87,1)" font-size="48.3" fill="#2a5699" stroke="#2a5699" stroke-width="0.9">R</text>
<text transform="translate(124.51,66.5) scale(0.96,1)" font-size="48.3" fill="#2a5699" stroke="#2a5699" stroke-width="0.9">A</text>
<text transform="translate(177.03,66.5) scale(0.65,1)" font-size="48.3" fill="#2a5699" stroke="#2a5699" stroke-width="0.9">I</text>
<text transform="translate(206.27,66.5) scale(1.02,1)" font-size="48.3" fill="#2a5699" stroke="#2a5699" stroke-width="0.9">N</text>
<text transform="translate(259.24,66.5) scale(0.93,1)" font-size="48.3" fill="#2a5699" stroke="#2a5699" stroke-width="0.9">S</text>
<text transform="translate(125.17,94.8) scale(1.07,1)" font-size="18.6" fill="#6b6b6b" stroke="#6b6b6b" stroke-width="0.6">U</text>
<text transform="translate(145.64,94.8) scale(1.09,1)" font-size="18.6" fill="#6b6b6b" stroke="#6b6b6b" stroke-width="0.6">N</text>
<text transform="translate(168.4,94.8) scale(1.11,1)" font-size="18.6" fill="#6b6b6b" stroke="#6b6b6b" stroke-width="0.6">L</text>
<text transform="translate(186.83,94.8) scale(1.39,1)" font-size="18.6" fill="#6b6b6b" stroke="#6b6b6b" stroke-width="0.6">I</text>
<text transform="translate(199.16,94.8) scale(1.14,1)" font-size="18.6" fill="#6b6b6b" stroke="#6b6b6b" stroke-width="0.6">M</text>
<text transform="translate(222.93,94.8) scale(1.39,1)" font-size="18.6" fill="#6b6b6b" stroke="#6b6b6b" stroke-width="0.6">I</text>
<text transform="translate(236.86,94.8) scale(1.08,1)" font-size="18.6" fill="#6b6b6b" stroke="#6b6b6b" stroke-width="0.6">T</text>
<text transform="translate(257.72,94.8) scale(0.9,1)" font-size="18.6" fill="#6b6b6b" stroke="#6b6b6b" stroke-width="0.6">E</text>
<text transform="translate(274.86,94.8) scale(0.95,1)" font-size="18.6" fill="#6b6b6b" stroke="#6b6b6b" stroke-width="0.6">D</text>
<linearGradient id="bg1" x1="0" x2="1" y1="0" y2="0"><stop offset="0" stop-color="#2b5ea3"/><stop offset="1" stop-color="#4b93c9"/></linearGradient>
<rect x="313" y="24" width="20.5" height="6.6" fill="#2a5699" stroke="none" stroke-width="0" rx="3.3"/>
<rect x="313" y="47.7" width="20.5" height="6.6" fill="#2a5699" stroke="none" stroke-width="0" rx="3.3"/>
<rect x="313" y="71.9" width="20.5" height="6.6" fill="#2a5699" stroke="none" stroke-width="0" rx="3.3"/>
<rect x="313" y="95" width="20.5" height="6.6" fill="#2a5699" stroke="none" stroke-width="0" rx="3.3"/>
<rect x="329.3" y="37" width="20" height="6.6" fill="url(#bg1)" stroke="none" stroke-width="0" rx="3.3"/>
<rect x="329.3" y="60" width="20" height="6.6" fill="url(#bg1)" stroke="none" stroke-width="0" rx="3.3"/>
<rect x="329.3" y="83.3" width="20" height="6.6" fill="url(#bg1)" stroke="none" stroke-width="0" rx="3.3"/>
<rect x="345" y="48" width="20" height="6.6" fill="#4ba2cf" stroke="none" stroke-width="0" rx="3.3"/>
<rect x="345" y="72" width="20" height="6.6" fill="#4ba2cf" stroke="none" stroke-width="0" rx="3.3"/>
<rect x="375.8" y="24.4" width="891.2" height="77.8" fill="#d9d9d9" stroke="none" stroke-width="0" />
<text x="385.7" y="55.4" font-size="27" text-anchor="start" fill="#000" textLength="72.6" lengthAdjust="spacingAndGlyphs" xml:space="preserve" >DUFB</text>
<text x="385.5" y="74.5" font-size="19.5" text-anchor="start" fill="#000" textLength="623.5" lengthAdjust="spacingAndGlyphs" xml:space="preserve" >STAINLESS STEEL LINEAR FLOOR DRAIN W/ BONDING FLANGE</text>
<text x="385.5" y="93.2" font-size="19.5" text-anchor="start" fill="#000" textLength="328" lengthAdjust="spacingAndGlyphs" xml:space="preserve" >WITH VERTICAL NO-HUB OUTLET</text>
<defs><clipPath id="insclip"><polygon points="82,431.5 141.6,431.5 151.5,457.5 171.4,404.4 180.8,431.5 217.6,431.5 217.6,1245.6 82,1245.6"/></clipPath>
</defs>
<rect x="64.3" y="431.5" width="15.6" height="872.5" fill="url(#sheath)" stroke="none" stroke-width="0" />
<line x1="62.5" y1="431.5" x2="62.5" y2="1304" stroke="#000" stroke-width="1.2" />
<line x1="82" y1="431.5" x2="82" y2="1304" stroke="#000" stroke-width="1.4" />
<path d="M108.6,236.6 C94.6,239.68 82.1,248.35 82.1,263.85 C82.1,279.35 94.6,288.02 108.6,291.1M191.1,263.85 C205.1,266.93 217.6,275.6 217.6,291.1 C217.6,306.6 205.1,315.27 191.1,318.35M108.6,236.6 C145.72,244.77 153.97,255.68 191.1,263.85M108.6,291.1 C145.72,282.93 153.97,272.02 191.1,263.85M108.6,291.1 C94.6,294.18 82.1,302.85 82.1,318.35 C82.1,333.85 94.6,342.52 108.6,345.6M191.1,318.35 C205.1,321.43 217.6,330.1 217.6,345.6 C217.6,361.1 205.1,369.77 191.1,372.85M108.6,291.1 C145.72,299.27 153.97,310.18 191.1,318.35M108.6,345.6 C145.72,337.43 153.97,326.52 191.1,318.35M108.6,345.6 C94.6,348.68 82.1,357.35 82.1,372.85 C82.1,388.35 94.6,397.02 108.6,400.1M191.1,372.85 C205.1,375.93 217.6,384.6 217.6,400.1 C217.6,415.6 205.1,424.27 191.1,427.35M108.6,345.6 C145.72,353.77 153.97,364.68 191.1,372.85M108.6,400.1 C145.72,391.93 153.97,381.02 191.1,372.85M108.6,400.1 C94.6,403.18 82.1,411.85 82.1,427.35 C82.1,442.85 94.6,451.52 108.6,454.6M191.1,427.35 C205.1,430.43 217.6,439.1 217.6,454.6 C217.6,470.1 205.1,478.77 191.1,481.85M108.6,400.1 C145.72,408.27 153.97,419.18 191.1,427.35M108.6,454.6 C145.72,446.43 153.97,435.52 191.1,427.35M108.6,454.6 C94.6,457.68 82.1,466.35 82.1,481.85 C82.1,497.35 94.6,506.02 108.6,509.1M191.1,481.85 C205.1,484.93 217.6,493.6 217.6,509.1 C217.6,524.6 205.1,533.27 191.1,536.35M108.6,454.6 C145.72,462.77 153.97,473.68 191.1,481.85M108.6,509.1 C145.72,500.93 153.97,490.02 191.1,481.85M108.6,509.1 C94.6,512.18 82.1,520.85 82.1,536.35 C82.1,551.85 94.6,560.52 108.6,563.6M191.1,536.35 C205.1,539.43 217.6,548.1 217.6,563.6 C217.6,579.1 205.1,587.77 191.1,590.85M108.6,509.1 C145.72,517.27 153.97,528.18 191.1,536.35M108.6,563.6 C145.72,555.43 153.97,544.52 191.1,536.35M108.6,563.6 C94.6,566.68 82.1,575.35 82.1,590.85 C82.1,606.35 94.6,615.02 108.6,618.1M191.1,590.85 C205.1,593.93 217.6,602.6 217.6,618.1 C217.6,633.6 205.1,642.27 191.1,645.35M108.6,563.6 C145.72,571.77 153.97,582.68 191.1,590.85M108.6,618.1 C145.72,609.93 153.97,599.02 191.1,590.85M108.6,618.1 C94.6,621.18 82.1,629.85 82.1,645.35 C82.1,660.85 94.6,669.52 108.6,672.6M191.1,645.35 C205.1,648.43 217.6,657.1 217.6,672.6 C217.6,688.1 205.1,696.77 191.1,699.85M108.6,618.1 C145.72,626.27 153.97,637.18 191.1,645.35M108.6,672.6 C145.72,664.43 153.97,653.52 191.1,645.35M108.6,672.6 C94.6,675.68 82.1,684.35 82.1,699.85 C82.1,715.35 94.6,724.02 108.6,727.1M191.1,699.85 C205.1,702.93 217.6,711.6 217.6,727.1 C217.6,742.6 205.1,751.27 191.1,754.35M108.6,672.6 C145.72,680.77 153.97,691.68 191.1,699.85M108.6,727.1 C145.72,718.93 153.97,708.02 191.1,699.85M108.6,727.1 C94.6,730.18 82.1,738.85 82.1,754.35 C82.1,769.85 94.6,778.52 108.6,781.6M191.1,754.35 C205.1,757.43 217.6,766.1 217.6,781.6 C217.6,797.1 205.1,805.77 191.1,808.85M108.6,727.1 C145.72,735.27 153.97,746.18 191.1,754.35M108.6,781.6 C145.72,773.43 153.97,762.52 191.1,754.35M108.6,781.6 C94.6,784.68 82.1,793.35 82.1,808.85 C82.1,824.35 94.6,833.02 108.6,836.1M191.1,808.85 C205.1,811.93 217.6,820.6 217.6,836.1 C217.6,851.6 205.1,860.27 191.1,863.35M108.6,781.6 C145.72,789.77 153.97,800.68 191.1,808.85M108.6,836.1 C145.72,827.93 153.97,817.02 191.1,808.85M108.6,836.1 C94.6,839.18 82.1,847.85 82.1,863.35 C82.1,878.85 94.6,887.52 108.6,890.6M191.1,863.35 C205.1,866.43 217.6,875.1 217.6,890.6 C217.6,906.1 205.1,914.77 191.1,917.85M108.6,836.1 C145.72,844.27 153.97,855.18 191.1,863.35M108.6,890.6 C145.72,882.43 153.97,871.52 191.1,863.35M108.6,890.6 C94.6,893.68 82.1,902.35 82.1,917.85 C82.1,933.35 94.6,942.02 108.6,945.1M191.1,917.85 C205.1,920.93 217.6,929.6 217.6,945.1 C217.6,960.6 205.1,969.27 191.1,972.35M108.6,890.6 C145.72,898.77 153.97,909.68 191.1,917.85M108.6,945.1 C145.72,936.93 153.97,926.02 191.1,917.85M108.6,945.1 C94.6,948.18 82.1,956.85 82.1,972.35 C82.1,987.85 94.6,996.52 108.6,999.6M191.1,972.35 C205.1,975.43 217.6,984.1 217.6,999.6 C217.6,1015.1 205.1,1023.77 191.1,1026.85M108.6,945.1 C145.72,953.27 153.97,964.18 191.1,972.35M108.6,999.6 C145.72,991.43 153.97,980.52 191.1,972.35M108.6,999.6 C94.6,1002.68 82.1,1011.35 82.1,1026.85 C82.1,1042.35 94.6,1051.02 108.6,1054.1M191.1,1026.85 C205.1,1029.93 217.6,1038.6 217.6,1054.1 C217.6,1069.6 205.1,1078.27 191.1,1081.35M108.6,999.6 C145.72,1007.77 153.97,1018.68 191.1,1026.85M108.6,1054.1 C145.72,1045.93 153.97,1035.02 191.1,1026.85M108.6,1054.1 C94.6,1057.18 82.1,1065.85 82.1,1081.35 C82.1,1096.85 94.6,1105.52 108.6,1108.6M191.1,1081.35 C205.1,1084.43 217.6,1093.1 217.6,1108.6 C217.6,1124.1 205.1,1132.77 191.1,1135.85M108.6,1054.1 C145.72,1062.27 153.97,1073.18 191.1,1081.35M108.6,1108.6 C145.72,1100.43 153.97,1089.52 191.1,1081.35M108.6,1108.6 C94.6,1111.68 82.1,1120.35 82.1,1135.85 C82.1,1151.35 94.6,1160.02 108.6,1163.1M191.1,1135.85 C205.1,1138.93 217.6,1147.6 217.6,1163.1 C217.6,1178.6 205.1,1187.27 191.1,1190.35M108.6,1108.6 C145.72,1116.77 153.97,1127.68 191.1,1135.85M108.6,1163.1 C145.72,1154.93 153.97,1144.02 191.1,1135.85M108.6,1163.1 C94.6,1166.18 82.1,1174.85 82.1,1190.35 C82.1,1205.85 94.6,1214.52 108.6,1217.6M191.1,1190.35 C205.1,1193.43 217.6,1202.1 217.6,1217.6 C217.6,1233.1 205.1,1241.77 191.1,1244.85M108.6,1163.1 C145.72,1171.27 153.97,1182.18 191.1,1190.35M108.6,1217.6 C145.72,1209.43 153.97,1198.52 191.1,1190.35M108.6,1217.6 C94.6,1220.68 82.1,1229.35 82.1,1244.85 C82.1,1260.35 94.6,1269.02 108.6,1272.1M191.1,1244.85 C205.1,1247.93 217.6,1256.6 217.6,1272.1 C217.6,1287.6 205.1,1296.27 191.1,1299.35M108.6,1217.6 C145.72,1225.77 153.97,1236.68 191.1,1244.85M108.6,1272.1 C145.72,1263.93 153.97,1253.02 191.1,1244.85M108.6,1272.1 C94.6,1275.18 82.1,1283.85 82.1,1299.35 C82.1,1314.85 94.6,1323.52 108.6,1326.6M191.1,1299.35 C205.1,1302.43 217.6,1311.1 217.6,1326.6 C217.6,1342.1 205.1,1350.77 191.1,1353.85M108.6,1272.1 C145.72,1280.27 153.97,1291.18 191.1,1299.35M108.6,1326.6 C145.72,1318.43 153.97,1307.52 191.1,1299.35M108.6,1326.6 C94.6,1329.68 82.1,1338.35 82.1,1353.85 C82.1,1369.35 94.6,1378.02 108.6,1381.1M191.1,1353.85 C205.1,1356.93 217.6,1365.6 217.6,1381.1 C217.6,1396.6 205.1,1405.27 191.1,1408.35M108.6,1326.6 C145.72,1334.77 153.97,1345.68 191.1,1353.85M108.6,1381.1 C145.72,1372.93 153.97,1362.02 191.1,1353.85" fill="none" stroke="#000" stroke-width="1.15" clip-path="url(#insclip)"/>
<rect x="159.7" y="1032.7" width="58.1" height="212.9" fill="#fff" stroke="#000" stroke-width="1.3" />
<line x1="159.7" y1="1032.7" x2="217.8" y2="1245.6" stroke="#000" stroke-width="1.1" />
<line x1="217.8" y1="1032.7" x2="159.7" y2="1245.6" stroke="#000" stroke-width="1.1" />
<rect x="82.1" y="1245.6" width="135.7" height="58.4" fill="#fff" stroke="#000" stroke-width="1.3" />
<line x1="82.1" y1="1245.6" x2="217.8" y2="1304" stroke="#000" stroke-width="1.1" />
<line x1="217.8" y1="1245.6" x2="82.1" y2="1304" stroke="#000" stroke-width="1.1" />
<rect x="217.6" y="431.5" width="19.1" height="872.5" fill="url(#gyp)" stroke="none" stroke-width="0" />
<line x1="217.5" y1="431.5" x2="217.5" y2="1304" stroke="#000" stroke-width="1.3" />
<rect x="239.6" y="431.5" width="7" height="820.5" fill="url(#thin)" stroke="none" stroke-width="0" />
<line x1="246.6" y1="431.5" x2="246.6" y2="1252" stroke="#000" stroke-width="1.1" />
<line x1="236.8" y1="431.5" x2="236.8" y2="1250" stroke="#777" stroke-width="0.8" />
<line x1="238.25" y1="431.5" x2="238.25" y2="1250" stroke="#000" stroke-width="3.1" stroke-dasharray="20.2 8.9" stroke-dashoffset="26.4"/>
<polyline points="246.6,794.2 255.8,794.2 255.8,431.5" fill="none" stroke="#000" stroke-width="1.3" />
<polyline points="246.6,799.3 255.8,799.3 255.8,1252.4" fill="none" stroke="#000" stroke-width="1.3" />
<polyline points="23,431.5 141.6,431.5 151.5,457.5 171.4,404.4 180.8,431.5 324.7,431.5" fill="none" stroke="#000" stroke-width="1.3" />
<rect x="238" y="1273.5" width="36.5" height="30.5" fill="url(#mort)" stroke="none" stroke-width="0" />
<polygon points="238,1299.3 274,1302.9 274,1304 238,1304" fill="#8a8a8a" stroke="none" stroke-width="1" />
<line x1="238" y1="1295.2" x2="274" y2="1302.6" stroke="#000" stroke-width="1.1" />
<rect x="239.3" y="1263.6" width="35" height="5" fill="url(#thin)" stroke="none" stroke-width="0" />
<rect x="239.3" y="1268" width="35" height="5.5" fill="#000" stroke="none" stroke-width="0" />
<rect x="239.3" y="1253.9" width="36.3" height="9.7" fill="#fff" stroke="#000" stroke-width="1.3" />
<line x1="237.9" y1="1250" x2="237.9" y2="1273.5" stroke="#000" stroke-width="3" />
<line x1="275.2" y1="1272.5" x2="275.2" y2="1304.5" stroke="#000" stroke-width="2.8" />
<line x1="373.4" y1="1272.5" x2="373.4" y2="1304.5" stroke="#000" stroke-width="2.8" />
<path d="M275,1302 Q324,1309.5 373.5,1302" fill="none" stroke="#000" stroke-width="3.6"/>
<path d="M276.5,1306.5 Q324,1312 372,1306.5" fill="none" stroke="#000" stroke-width="0.9"/>
<line x1="276.5" y1="1276.6" x2="372" y2="1276.6" stroke="#000" stroke-width="1.0" />
<line x1="276.5" y1="1278.3" x2="372" y2="1278.3" stroke="#555" stroke-width="0.8" />
<rect x="308.4" y="1278.5" width="31.4" height="22.3" fill="none" stroke="#8c8c8c" stroke-width="1.0" />
<line x1="308.4" y1="1282.2" x2="339.8" y2="1282.2" stroke="#8c8c8c" stroke-width="0.9" />
<rect x="285.2" y="1262.3" width="78.5" height="14.3" fill="#000" stroke="none" stroke-width="0" />
<rect x="287.5" y="1264.2" width="74" height="5.2" fill="url(#thin)" stroke="none" stroke-width="0" />
<rect x="287.3" y="1254.3" width="73.5" height="8" fill="#fff" stroke="#000" stroke-width="1.3" />
<line x1="287.3" y1="1261" x2="360.8" y2="1261" stroke="#444" stroke-width="0.7" />
<polygon points="373.1,1263.3 930,1253.63 905,1258.97 373.1,1268.2" fill="url(#thin)" stroke="none" stroke-width="1" />
<polygon points="373.1,1271.5 905,1262.27 958.4,1284.3 940,1292 925,1296.5 894.9,1302.1 894.9,1304 373.1,1304" fill="url(#mort)" stroke="none" stroke-width="1" />
<path d="M930.5,1253 L905,1265.7 L958.4,1284.3 Q925,1296 894.9,1302.1" fill="none" stroke="#000" stroke-width="1.2"/>
<line x1="373.1" y1="1270" x2="920" y2="1260.51" stroke="#000" stroke-width="3.4" stroke-dasharray="19.5 9.5" stroke-dashoffset="-4"/>
<line x1="373.1" y1="1270" x2="404" y2="1269.46" stroke="#000" stroke-width="3.4"/>
<line x1="372.5" y1="1272.3" x2="406" y2="1271.7" stroke="#000" stroke-width="3" />
<polygon points="373.1,1253.9 839.8,1245.8 839.8,1255.2 373.1,1263.3" fill="#fff" stroke="#000" stroke-width="1.3" />
<polygon points="844.5,1245.72 932,1244.2 932,1253.6 844.5,1255.12" fill="#fff" stroke="#000" stroke-width="1.3" />
<rect x="840.5" y="1245.5" width="3.3" height="7" fill="url(#thin)" stroke="none" stroke-width="0" />
<polyline points="375,1302 431,1290.4 439.5,1302.4 496.8,1290.4 505.3,1302.4 562.6,1290.4 571.1,1302.4 628.4,1290.4 636.9,1302.4 694.2,1290.4 702.7,1302.4 760,1290.4 768.5,1302.4 825.8,1290.4 834.3,1302.4 891.6,1290.4 894.9,1302.1" fill="none" stroke="#000" stroke-width="1.2" />
<line x1="931.9" y1="1183.7" x2="931.9" y2="1296" stroke="#000" stroke-width="1.3" />
<line x1="931.9" y1="1333" x2="931.9" y2="1441" stroke="#000" stroke-width="1.3" />
<clipPath id="pw1"><rect x="42.8" y="1304.3" width="230.7" height="29.1"/></clipPath>
<rect x="42.8" y="1304.3" width="230.7" height="29.1" fill="#fff"/>
<path d="M25.33,1314 L33.83,1304.3 M25.33,1314 L33.83,1323.7 L24.83,1333.4M34.99,1314 L43.49,1304.3 M34.99,1314 L43.49,1323.7 L34.49,1333.4M44.65,1314 L53.15,1304.3 M44.65,1314 L53.15,1323.7 L44.15,1333.4M54.31,1314 L62.81,1304.3 M54.31,1314 L62.81,1323.7 L53.81,1333.4M63.97,1314 L72.47,1304.3 M63.97,1314 L72.47,1323.7 L63.47,1333.4M73.63,1314 L82.13,1304.3 M73.63,1314 L82.13,1323.7 L73.13,1333.4M83.29,1314 L91.79,1304.3 M83.29,1314 L91.79,1323.7 L82.79,1333.4M92.95,1314 L101.45,1304.3 M92.95,1314 L101.45,1323.7 L92.45,1333.4M102.61,1314 L111.11,1304.3 M102.61,1314 L111.11,1323.7 L102.11,1333.4M112.27,1314 L120.77,1304.3 M112.27,1314 L120.77,1323.7 L111.77,1333.4M121.93,1314 L130.43,1304.3 M121.93,1314 L130.43,1323.7 L121.43,1333.4M131.59,1314 L140.09,1304.3 M131.59,1314 L140.09,1323.7 L131.09,1333.4M141.25,1314 L149.75,1304.3 M141.25,1314 L149.75,1323.7 L140.75,1333.4M150.91,1314 L159.41,1304.3 M150.91,1314 L159.41,1323.7 L150.41,1333.4M160.57,1314 L169.07,1304.3 M160.57,1314 L169.07,1323.7 L160.07,1333.4M170.23,1314 L178.73,1304.3 M170.23,1314 L178.73,1323.7 L169.73,1333.4M179.89,1314 L188.39,1304.3 M179.89,1314 L188.39,1323.7 L179.39,1333.4M189.55,1314 L198.05,1304.3 M189.55,1314 L198.05,1323.7 L189.05,1333.4M199.21,1314 L207.71,1304.3 M199.21,1314 L207.71,1323.7 L198.71,1333.4M208.87,1314 L217.37,1304.3 M208.87,1314 L217.37,1323.7 L208.37,1333.4M218.53,1314 L227.03,1304.3 M218.53,1314 L227.03,1323.7 L218.03,1333.4M228.19,1314 L236.69,1304.3 M228.19,1314 L236.69,1323.7 L227.69,1333.4M237.85,1314 L246.35,1304.3 M237.85,1314 L246.35,1323.7 L237.35,1333.4M247.51,1314 L256.01,1304.3 M247.51,1314 L256.01,1323.7 L247.01,1333.4M257.17,1314 L265.67,1304.3 M257.17,1314 L265.67,1323.7 L256.67,1333.4M266.83,1314 L275.33,1304.3 M266.83,1314 L275.33,1323.7 L266.33,1333.4M276.49,1314 L284.99,1304.3 M276.49,1314 L284.99,1323.7 L275.99,1333.4" stroke="#000" stroke-width="1.1" fill="none" clip-path="url(#pw1)"/>
<line x1="42.8" y1="1314" x2="273.5" y2="1314" stroke="#666" stroke-width="1.3" />
<line x1="42.8" y1="1323.7" x2="273.5" y2="1323.7" stroke="#000" stroke-width="1.2" />
<line x1="42.8" y1="1304.3" x2="273.5" y2="1304.3" stroke="#000" stroke-width="1.3" />
<line x1="42.8" y1="1333.4" x2="273.5" y2="1333.4" stroke="#000" stroke-width="1.3" />
<line x1="273.5" y1="1304.3" x2="273.5" y2="1333.4" stroke="#000" stroke-width="1.2" />
<clipPath id="pw2"><rect x="375.1" y="1304.3" width="556.9" height="29.1"/></clipPath>
<rect x="375.1" y="1304.3" width="556.9" height="29.1" fill="#fff"/>
<path d="M353.77,1314 L362.27,1304.3 M353.77,1314 L362.27,1323.7 L353.27,1333.4M363.43,1314 L371.93,1304.3 M363.43,1314 L371.93,1323.7 L362.93,1333.4M373.09,1314 L381.59,1304.3 M373.09,1314 L381.59,1323.7 L372.59,1333.4M382.75,1314 L391.25,1304.3 M382.75,1314 L391.25,1323.7 L382.25,1333.4M392.41,1314 L400.91,1304.3 M392.41,1314 L400.91,1323.7 L391.91,1333.4M402.07,1314 L410.57,1304.3 M402.07,1314 L410.57,1323.7 L401.57,1333.4M411.73,1314 L420.23,1304.3 M411.73,1314 L420.23,1323.7 L411.23,1333.4M421.39,1314 L429.89,1304.3 M421.39,1314 L429.89,1323.7 L420.89,1333.4M431.05,1314 L439.55,1304.3 M431.05,1314 L439.55,1323.7 L430.55,1333.4M440.71,1314 L449.21,1304.3 M440.71,1314 L449.21,1323.7 L440.21,1333.4M450.37,1314 L458.87,1304.3 M450.37,1314 L458.87,1323.7 L449.87,1333.4M460.03,1314 L468.53,1304.3 M460.03,1314 L468.53,1323.7 L459.53,1333.4M469.69,1314 L478.19,1304.3 M469.69,1314 L478.19,1323.7 L469.19,1333.4M479.35,1314 L487.85,1304.3 M479.35,1314 L487.85,1323.7 L478.85,1333.4M489.01,1314 L497.51,1304.3 M489.01,1314 L497.51,1323.7 L488.51,1333.4M498.67,1314 L507.17,1304.3 M498.67,1314 L507.17,1323.7 L498.17,1333.4M508.33,1314 L516.83,1304.3 M508.33,1314 L516.83,1323.7 L507.83,1333.4M517.99,1314 L526.49,1304.3 M517.99,1314 L526.49,1323.7 L517.49,1333.4M527.65,1314 L536.15,1304.3 M527.65,1314 L536.15,1323.7 L527.15,1333.4M537.31,1314 L545.81,1304.3 M537.31,1314 L545.81,1323.7 L536.81,1333.4M546.97,1314 L555.47,1304.3 M546.97,1314 L555.47,1323.7 L546.47,1333.4M556.63,1314 L565.13,1304.3 M556.63,1314 L565.13,1323.7 L556.13,1333.4M566.29,1314 L574.79,1304.3 M566.29,1314 L574.79,1323.7 L565.79,1333.4M575.95,1314 L584.45,1304.3 M575.95,1314 L584.45,1323.7 L575.45,1333.4M585.61,1314 L594.11,1304.3 M585.61,1314 L594.11,1323.7 L585.11,1333.4M595.27,1314 L603.77,1304.3 M595.27,1314 L603.77,1323.7 L594.77,1333.4M604.93,1314 L613.43,1304.3 M604.93,1314 L613.43,1323.7 L604.43,1333.4M614.59,1314 L623.09,1304.3 M614.59,1314 L623.09,1323.7 L614.09,1333.4M624.25,1314 L632.75,1304.3 M624.25,1314 L632.75,1323.7 L623.75,1333.4M633.91,1314 L642.41,1304.3 M633.91,1314 L642.41,1323.7 L633.41,1333.4M643.57,1314 L652.07,1304.3 M643.57,1314 L652.07,1323.7 L643.07,1333.4M653.23,1314 L661.73,1304.3 M653.23,1314 L661.73,1323.7 L652.73,1333.4M662.89,1314 L671.39,1304.3 M662.89,1314 L671.39,1323.7 L662.39,1333.4M672.55,1314 L681.05,1304.3 M672.55,1314 L681.05,1323.7 L672.05,1333.4M682.21,1314 L690.71,1304.3 M682.21,1314 L690.71,1323.7 L681.71,1333.4M691.87,1314 L700.37,1304.3 M691.87,1314 L700.37,1323.7 L691.37,1333.4M701.53,1314 L710.03,1304.3 M701.53,1314 L710.03,1323.7 L701.03,1333.4M711.19,1314 L719.69,1304.3 M711.19,1314 L719.69,1323.7 L710.69,1333.4M720.85,1314 L729.35,1304.3 M720.85,1314 L729.35,1323.7 L720.35,1333.4M730.51,1314 L739.01,1304.3 M730.51,1314 L739.01,1323.7 L730.01,1333.4M740.17,1314 L748.67,1304.3 M740.17,1314 L748.67,1323.7 L739.67,1333.4M749.83,1314 L758.33,1304.3 M749.83,1314 L758.33,1323.7 L749.33,1333.4M759.49,1314 L767.99,1304.3 M759.49,1314 L767.99,1323.7 L758.99,1333.4M769.15,1314 L777.65,1304.3 M769.15,1314 L777.65,1323.7 L768.65,1333.4M778.81,1314 L787.31,1304.3 M778.81,1314 L787.31,1323.7 L778.31,1333.4M788.47,1314 L796.97,1304.3 M788.47,1314 L796.97,1323.7 L787.97,1333.4M798.13,1314 L806.63,1304.3 M798.13,1314 L806.63,1323.7 L797.63,1333.4M807.79,1314 L816.29,1304.3 M807.79,1314 L816.29,1323.7 L807.29,1333.4M817.45,1314 L825.95,1304.3 M817.45,1314 L825.95,1323.7 L816.95,1333.4M827.11,1314 L835.61,1304.3 M827.11,1314 L835.61,1323.7 L826.61,1333.4M836.77,1314 L845.27,1304.3 M836.77,1314 L845.27,1323.7 L836.27,1333.4M846.43,1314 L854.93,1304.3 M846.43,1314 L854.93,1323.7 L845.93,1333.4M856.09,1314 L864.59,1304.3 M856.09,1314 L864.59,1323.7 L855.59,1333.4M865.75,1314 L874.25,1304.3 M865.75,1314 L874.25,1323.7 L865.25,1333.4M875.41,1314 L883.91,1304.3 M875.41,1314 L883.91,1323.7 L874.91,1333.4M885.07,1314 L893.57,1304.3 M885.07,1314 L893.57,1323.7 L884.57,1333.4M894.73,1314 L903.23,1304.3 M894.73,1314 L903.23,1323.7 L894.23,1333.4M904.39,1314 L912.89,1304.3 M904.39,1314 L912.89,1323.7 L903.89,1333.4M914.05,1314 L922.55,1304.3 M914.05,1314 L922.55,1323.7 L913.55,1333.4M923.71,1314 L932.21,1304.3 M923.71,1314 L932.21,1323.7 L923.21,1333.4M933.37,1314 L941.87,1304.3 M933.37,1314 L941.87,1323.7 L932.87,1333.4" stroke="#000" stroke-width="1.1" fill="none" clip-path="url(#pw2)"/>
<line x1="375.1" y1="1314" x2="932" y2="1314" stroke="#666" stroke-width="1.3" />
<line x1="375.1" y1="1323.7" x2="932" y2="1323.7" stroke="#000" stroke-width="1.2" />
<line x1="375.1" y1="1304.3" x2="932" y2="1304.3" stroke="#000" stroke-width="1.3" />
<line x1="375.1" y1="1333.4" x2="932" y2="1333.4" stroke="#000" stroke-width="1.3" />
<line x1="375.1" y1="1304.3" x2="375.1" y2="1333.4" stroke="#000" stroke-width="1.2" />
<line x1="932" y1="1304.3" x2="932" y2="1333.4" stroke="#000" stroke-width="1.2" />
<line x1="278.6" y1="1309" x2="278.6" y2="1529.5" stroke="#000" stroke-width="1.2" />
<line x1="370.5" y1="1309" x2="370.5" y2="1529.5" stroke="#000" stroke-width="1.2" />
<line x1="278.6" y1="1527.5" x2="370.5" y2="1527.5" stroke="#777" stroke-width="0.8" />
<line x1="278.6" y1="1530" x2="370.5" y2="1530" stroke="#000" stroke-width="1.2" />
<rect x="274.9" y="1373.2" width="99.3" height="97.5" fill="url(#coup)" stroke="#000" stroke-width="1.3" />
<line x1="276" y1="1420" x2="296" y2="1420" stroke="#aaa" stroke-width="0.7" />
<line x1="306" y1="1420" x2="330" y2="1420" stroke="#aaa" stroke-width="0.7" />
<line x1="340" y1="1420" x2="372" y2="1420" stroke="#aaa" stroke-width="0.7" />
<rect x="274.9" y="1388" width="99.3" height="19.4" fill="#fff" stroke="#000" stroke-width="1.4" />
<path d="M276.5,1392.6 a1.2,5.1 0 1 0 0.01,0 zM279.25,1392.6 a1.2,5.1 0 1 0 0.01,0 zM282,1392.6 a1.2,5.1 0 1 0 0.01,0 zM284.75,1392.6 a1.2,5.1 0 1 0 0.01,0 zM287.5,1392.6 a1.2,5.1 0 1 0 0.01,0 zM290.25,1392.6 a1.2,5.1 0 1 0 0.01,0 zM293,1392.6 a1.2,5.1 0 1 0 0.01,0 zM295.75,1392.6 a1.2,5.1 0 1 0 0.01,0 zM298.5,1392.6 a1.2,5.1 0 1 0 0.01,0 zM301.25,1392.6 a1.2,5.1 0 1 0 0.01,0 zM304,1392.6 a1.2,5.1 0 1 0 0.01,0 zM306.75,1392.6 a1.2,5.1 0 1 0 0.01,0 zM309.5,1392.6 a1.2,5.1 0 1 0 0.01,0 zM312.25,1392.6 a1.2,5.1 0 1 0 0.01,0 zM315,1392.6 a1.2,5.1 0 1 0 0.01,0 zM317.75,1392.6 a1.2,5.1 0 1 0 0.01,0 zM320.5,1392.6 a1.2,5.1 0 1 0 0.01,0 zM323.25,1392.6 a1.2,5.1 0 1 0 0.01,0 zM326,1392.6 a1.2,5.1 0 1 0 0.01,0 zM328.75,1392.6 a1.2,5.1 0 1 0 0.01,0 zM331.5,1392.6 a1.2,5.1 0 1 0 0.01,0 zM334.25,1392.6 a1.2,5.1 0 1 0 0.01,0 zM337,1392.6 a1.2,5.1 0 1 0 0.01,0 zM339.75,1392.6 a1.2,5.1 0 1 0 0.01,0 zM342.5,1392.6 a1.2,5.1 0 1 0 0.01,0 zM345.25,1392.6 a1.2,5.1 0 1 0 0.01,0 zM348,1392.6 a1.2,5.1 0 1 0 0.01,0 zM350.75,1392.6 a1.2,5.1 0 1 0 0.01,0 zM353.5,1392.6 a1.2,5.1 0 1 0 0.01,0 zM356.25,1392.6 a1.2,5.1 0 1 0 0.01,0 zM359,1392.6 a1.2,5.1 0 1 0 0.01,0 zM361.75,1392.6 a1.2,5.1 0 1 0 0.01,0 zM364.5,1392.6 a1.2,5.1 0 1 0 0.01,0 zM367.25,1392.6 a1.2,5.1 0 1 0 0.01,0 zM370,1392.6 a1.2,5.1 0 1 0 0.01,0 zM372.75,1392.6 a1.2,5.1 0 1 0 0.01,0 z" fill="none" stroke="#111" stroke-width="1.15"/>
<path d="M374.2,1388 L386.5,1388 A9.7,9.7 0 0 1 386.5,1407.4 L374.2,1407.4" fill="#fff" stroke="#000" stroke-width="1.3"/>
<circle cx="386.5" cy="1397.7" r="6.3" fill="#fff" stroke="#000" stroke-width="1.6"/>
<line x1="386.5" y1="1392.4" x2="386.5" y2="1403" stroke="#000" stroke-width="1.6" />
<line x1="381.2" y1="1397.7" x2="391.8" y2="1397.7" stroke="#000" stroke-width="1.6" />
<rect x="274.9" y="1436.5" width="99.3" height="19.4" fill="#fff" stroke="#000" stroke-width="1.4" />
<path d="M276.5,1441.1 a1.2,5.1 0 1 0 0.01,0 zM279.25,1441.1 a1.2,5.1 0 1 0 0.01,0 zM282,1441.1 a1.2,5.1 0 1 0 0.01,0 zM284.75,1441.1 a1.2,5.1 0 1 0 0.01,0 zM287.5,1441.1 a1.2,5.1 0 1 0 0.01,0 zM290.25,1441.1 a1.2,5.1 0 1 0 0.01,0 zM293,1441.1 a1.2,5.1 0 1 0 0.01,0 zM295.75,1441.1 a1.2,5.1 0 1 0 0.01,0 zM298.5,1441.1 a1.2,5.1 0 1 0 0.01,0 zM301.25,1441.1 a1.2,5.1 0 1 0 0.01,0 zM304,1441.1 a1.2,5.1 0 1 0 0.01,0 zM306.75,1441.1 a1.2,5.1 0 1 0 0.01,0 zM309.5,1441.1 a1.2,5.1 0 1 0 0.01,0 zM312.25,1441.1 a1.2,5.1 0 1 0 0.01,0 zM315,1441.1 a1.2,5.1 0 1 0 0.01,0 zM317.75,1441.1 a1.2,5.1 0 1 0 0.01,0 zM320.5,1441.1 a1.2,5.1 0 1 0 0.01,0 zM323.25,1441.1 a1.2,5.1 0 1 0 0.01,0 zM326,1441.1 a1.2,5.1 0 1 0 0.01,0 zM328.75,1441.1 a1.2,5.1 0 1 0 0.01,0 zM331.5,1441.1 a1.2,5.1 0 1 0 0.01,0 zM334.25,1441.1 a1.2,5.1 0 1 0 0.01,0 zM337,1441.1 a1.2,5.1 0 1 0 0.01,0 zM339.75,1441.1 a1.2,5.1 0 1 0 0.01,0 zM342.5,1441.1 a1.2,5.1 0 1 0 0.01,0 zM345.25,1441.1 a1.2,5.1 0 1 0 0.01,0 zM348,1441.1 a1.2,5.1 0 1 0 0.01,0 zM350.75,1441.1 a1.2,5.1 0 1 0 0.01,0 zM353.5,1441.1 a1.2,5.1 0 1 0 0.01,0 zM356.25,1441.1 a1.2,5.1 0 1 0 0.01,0 zM359,1441.1 a1.2,5.1 0 1 0 0.01,0 zM361.75,1441.1 a1.2,5.1 0 1 0 0.01,0 zM364.5,1441.1 a1.2,5.1 0 1 0 0.01,0 zM367.25,1441.1 a1.2,5.1 0 1 0 0.01,0 zM370,1441.1 a1.2,5.1 0 1 0 0.01,0 zM372.75,1441.1 a1.2,5.1 0 1 0 0.01,0 z" fill="none" stroke="#111" stroke-width="1.15"/>
<path d="M374.2,1436.5 L386.5,1436.5 A9.7,9.7 0 0 1 386.5,1455.9 L374.2,1455.9" fill="#fff" stroke="#000" stroke-width="1.3"/>
<circle cx="386.5" cy="1446.2" r="6.3" fill="#fff" stroke="#000" stroke-width="1.6"/>
<line x1="386.5" y1="1440.9" x2="386.5" y2="1451.5" stroke="#000" stroke-width="1.6" />
<line x1="381.2" y1="1446.2" x2="391.8" y2="1446.2" stroke="#000" stroke-width="1.6" />
<line x1="159.5" y1="1333.7" x2="159.5" y2="1529.5" stroke="#000" stroke-width="1.2" />
<line x1="217.2" y1="1333.7" x2="217.2" y2="1543" stroke="#000" stroke-width="1.2" />
<line x1="159.5" y1="1333.7" x2="199.7" y2="1529.5" stroke="#000" stroke-width="1.0" />
<line x1="217.2" y1="1333.7" x2="177" y2="1529.5" stroke="#000" stroke-width="1.0" />
<polyline points="67.6,1529.5 215.3,1529.5 223.9,1555.5 243.3,1502.3 253.7,1529.5 396.6,1529.5" fill="none" stroke="#000" stroke-width="1.2" />
<line x1="781.4" y1="1333.7" x2="781.4" y2="1514.6" stroke="#000" stroke-width="1.2" />
<line x1="839.8" y1="1333.7" x2="839.8" y2="1514.6" stroke="#000" stroke-width="1.2" />
<line x1="781.4" y1="1333.7" x2="819.3" y2="1514.6" stroke="#000" stroke-width="1.0" />
<line x1="839.8" y1="1333.7" x2="803.7" y2="1506" stroke="#000" stroke-width="1.0" />
<polyline points="619.5,1514.6 768.4,1514.6 777.7,1542 797.4,1488.6 806.7,1514.6 950.7,1514.6" fill="none" stroke="#000" stroke-width="1.2" />
<line x1="23.7" y1="1570" x2="1267" y2="1570" stroke="#000" stroke-width="3.2" />
<polyline points="361.8,454.8 206.2,455.3" fill="none" stroke="#1a1a1a" stroke-width="1.1" />
<polygon points="206.2,455.3 224.19,452.44 224.21,458.04" fill="#1a1a1a" stroke="none" stroke-width="1" />
<polyline points="361.8,493.6 227.9,493.6" fill="none" stroke="#1a1a1a" stroke-width="1.1" />
<polygon points="227.9,493.6 242.9,490.8 242.9,496.4" fill="#1a1a1a" stroke="none" stroke-width="1" />
<polyline points="361.8,535.4 239.3,535.4" fill="none" stroke="#1a1a1a" stroke-width="1.1" />
<polygon points="239.3,535.4 254.3,532.6 254.3,538.2" fill="#1a1a1a" stroke="none" stroke-width="1" />
<polyline points="361.8,600 244,600" fill="none" stroke="#1a1a1a" stroke-width="1.1" />
<polygon points="244,600 257,597.2 257,602.8" fill="#1a1a1a" stroke="none" stroke-width="1" />
<polyline points="361.8,639.3 254.8,639.3" fill="none" stroke="#1a1a1a" stroke-width="1.1" />
<polygon points="254.8,639.3 270.8,636.3 270.8,642.3" fill="#1a1a1a" stroke="none" stroke-width="1" />
<polyline points="361.8,696.7 310,696.7 208.6,1119" fill="none" stroke="#1a1a1a" stroke-width="1.1" />
<polygon points="208.6,1119 210.27,1100.89 215.33,1102.1" fill="#1a1a1a" stroke="none" stroke-width="1" />
<text x="369.3" y="457.8" font-size="20.8" text-anchor="start" fill="#000" textLength="245.2" lengthAdjust="spacingAndGlyphs" xml:space="preserve" >SCHEDULED WALL PARTITION</text>
<text x="369.3" y="496.9" font-size="20.8" text-anchor="start" fill="#000" textLength="215.1" lengthAdjust="spacingAndGlyphs" xml:space="preserve" >SCHEDULED WALL BOARD</text>
<text x="367" y="541.6" font-size="20.8" text-anchor="start" fill="#000" textLength="225.8" lengthAdjust="spacingAndGlyphs" xml:space="preserve" >SCHEDULED WATERPROOF</text>
<text x="367" y="565.5" font-size="20.8" text-anchor="start" fill="#000" textLength="94.9" lengthAdjust="spacingAndGlyphs" xml:space="preserve" >MEMBRANE</text>
<text x="369.5" y="606.7" font-size="20.8" text-anchor="start" fill="#000" textLength="70.4" lengthAdjust="spacingAndGlyphs" xml:space="preserve" >THINSET</text>
<text x="369.5" y="646" font-size="20.8" text-anchor="start" fill="#000" textLength="225.8" lengthAdjust="spacingAndGlyphs" xml:space="preserve" >SCHEDULED  WALL TILE OR</text>
<text x="369.5" y="669.7" font-size="20.8" text-anchor="start" fill="#000" textLength="41" lengthAdjust="spacingAndGlyphs" xml:space="preserve" >SLAB</text>
<text x="369.5" y="703.5" font-size="20.8" text-anchor="start" fill="#000" textLength="232" lengthAdjust="spacingAndGlyphs" xml:space="preserve" >BLOCKING BETWEEN STUDS</text>
<polyline points="563,771.6 342.6,771.6 342.6,1245" fill="none" stroke="#1a1a1a" stroke-width="1.1" />
<polygon points="342.6,1245 339.6,1228 345.6,1228" fill="#1a1a1a" stroke="none" stroke-width="1" />
<polyline points="563,821.2 401.1,821.2 401.1,1253.6" fill="none" stroke="#1a1a1a" stroke-width="1.1" />
<polygon points="401.1,1253.6 398.1,1238.6 404.1,1238.6" fill="#1a1a1a" stroke="none" stroke-width="1" />
<polyline points="563,851 432.8,851 432.8,1265.2" fill="none" stroke="#1a1a1a" stroke-width="1.1" />
<polygon points="432.8,1265.2 429.8,1250.7 435.8,1250.7" fill="#1a1a1a" stroke="none" stroke-width="1" />
<polyline points="563,885.6 463,885.6 463,1269" fill="none" stroke="#1a1a1a" stroke-width="1.1" />
<polygon points="463,1269 460,1254 466,1254" fill="#1a1a1a" stroke="none" stroke-width="1" />
<polyline points="560.8,992.7 494.5,992.7 494.5,1281" fill="none" stroke="#1a1a1a" stroke-width="1.1" />
<polygon points="494.5,1281 491.5,1264 497.5,1264" fill="#1a1a1a" stroke="none" stroke-width="1" />
<polyline points="560.8,1048 520,1048 520,1301.6" fill="none" stroke="#1a1a1a" stroke-width="1.1" />
<polygon points="520,1301.6 517,1286.1 523,1286.1" fill="#1a1a1a" stroke="none" stroke-width="1" />
<polyline points="565.6,1153.75 548.3,1153.75 548.3,1313.6" fill="none" stroke="#1a1a1a" stroke-width="1.1" />
<polygon points="548.3,1313.6 545.3,1298.1 551.3,1298.1" fill="#1a1a1a" stroke="none" stroke-width="1" />
<text x="570.4" y="779.8" font-size="20.8" text-anchor="start" fill="#000" textLength="313.9" lengthAdjust="spacingAndGlyphs" xml:space="preserve" >SELECTED REMOVABLE DRAIN GRATE</text>
<text x="570.4" y="828.4" font-size="20.8" text-anchor="start" fill="#000" textLength="286" lengthAdjust="spacingAndGlyphs" xml:space="preserve" >SCHEDULED  FLOOR TILE OR SLAB</text>
<text x="570.4" y="858.2" font-size="20.8" text-anchor="start" fill="#000" textLength="70.1" lengthAdjust="spacingAndGlyphs" xml:space="preserve" >THINSET</text>
<text x="570.4" y="895.2" font-size="20.8" text-anchor="start" fill="#000" textLength="354.8" lengthAdjust="spacingAndGlyphs" xml:space="preserve" >SCHEDULED WATERPROOF MEMBRANE TO</text>
<text x="570.4" y="919.2" font-size="20.8" text-anchor="start" fill="#000" textLength="263.6" lengthAdjust="spacingAndGlyphs" xml:space="preserve" >RETURN UP SHOWER WALLS  IN</text>
<text x="570.4" y="943.75" font-size="20.8" text-anchor="start" fill="#000" textLength="260.6" lengthAdjust="spacingAndGlyphs" xml:space="preserve" >ACCORDANCE W/ LOCAL CODE.</text>
<text x="570.4" y="987.9" font-size="20.8" text-anchor="start" fill="#000" textLength="349.6" lengthAdjust="spacingAndGlyphs" xml:space="preserve" >1"-1¾" MORTAR BED SLOPED AT  1/4" : 1'-0"</text>
<text x="570.4" y="1009" font-size="20.8" text-anchor="start" fill="#000" textLength="179.6" lengthAdjust="spacingAndGlyphs" xml:space="preserve" >TOWARDS THE DRAIN</text>
<text x="570.4" y="1056" font-size="20.8" text-anchor="start" fill="#000" textLength="337.6" lengthAdjust="spacingAndGlyphs" xml:space="preserve" >GALVANIZED EXPAND METAL LATH OVER</text>
<text x="570.4" y="1080" font-size="20.8" text-anchor="start" fill="#000" textLength="189.6" lengthAdjust="spacingAndGlyphs" xml:space="preserve" >CLEAVAGE MEMBRANE</text>
<text x="570.4" y="1160.5" font-size="20.8" text-anchor="start" fill="#000" textLength="358.1" lengthAdjust="spacingAndGlyphs" xml:space="preserve" >EXTERIOR GRADE PLYWOOD OR ORIENTED</text>
<text x="570.4" y="1184.5" font-size="20.8" text-anchor="start" fill="#000" textLength="298.6" lengthAdjust="spacingAndGlyphs" xml:space="preserve" >STRAND BOARD FLOOR SUBSTRATE</text>
<polyline points="887.3,1229.3 887.3,1211.6 927.9,1211.6 887.3,1229.3" fill="none" stroke="#000" stroke-width="1.2" />
<text x="891" y="1207.6" font-size="19" text-anchor="start" fill="#000" textLength="31" lengthAdjust="spacingAndGlyphs" xml:space="preserve" >1'-0"</text>
<text x="869.8" y="1217.7" font-size="13" text-anchor="start" fill="#000" textLength="5.5" lengthAdjust="spacingAndGlyphs" xml:space="preserve" >1</text>
<line x1="869" y1="1220" x2="876.5" y2="1220" stroke="#000" stroke-width="1.2" />
<text x="869.8" y="1231.6" font-size="13" text-anchor="start" fill="#000" textLength="5.5" lengthAdjust="spacingAndGlyphs" xml:space="preserve" >4</text>
<text x="875.8" y="1220" font-size="13" text-anchor="start" fill="#000" xml:space="preserve" >"</text>
<polyline points="556.3,1358.3 366.8,1358.3" fill="none" stroke="#1a1a1a" stroke-width="1.1" />
<polygon points="366.8,1358.3 382.8,1355.7 382.8,1360.9" fill="#1a1a1a" stroke="none" stroke-width="1" />
<polyline points="556.3,1427.9 373.5,1427.9" fill="none" stroke="#1a1a1a" stroke-width="1.1" />
<polygon points="373.5,1427.9 389.5,1425.3 389.5,1430.5" fill="#1a1a1a" stroke="none" stroke-width="1" />
<polyline points="556.3,1531 496.7,1531 366.8,1499.3" fill="none" stroke="#1a1a1a" stroke-width="1.1" />
<polygon points="366.8,1499.3 384.9,1501.04 383.67,1506.09" fill="#1a1a1a" stroke="none" stroke-width="1" />
<text x="563.7" y="1366.5" font-size="20.8" text-anchor="start" fill="#000" textLength="198.3" lengthAdjust="spacingAndGlyphs" xml:space="preserve" >SCHEDULE DUFB DRAIN</text>
<text x="563.7" y="1390.7" font-size="20.8" text-anchor="start" fill="#000" textLength="46.3" lengthAdjust="spacingAndGlyphs" xml:space="preserve" >BODY</text>
<text x="563.7" y="1435.3" font-size="20.8" text-anchor="start" fill="#000" textLength="186.3" lengthAdjust="spacingAndGlyphs" xml:space="preserve" >COUPLING WITH HOSE</text>
<text x="563.7" y="1460" font-size="20.8" text-anchor="start" fill="#000" textLength="169.8" lengthAdjust="spacingAndGlyphs" xml:space="preserve" >CLAMPS BY OTHERS</text>
<text x="563.7" y="1538.4" font-size="20.8" text-anchor="start" fill="#000" textLength="134.3" lengthAdjust="spacingAndGlyphs" xml:space="preserve" >WASTE PIPE  BY</text>
<text x="563.7" y="1562.6" font-size="20.8" text-anchor="start" fill="#000" textLength="68.8" lengthAdjust="spacingAndGlyphs" xml:space="preserve" >OTHERS</text>
<line x1="226.5" y1="1361" x2="334.4" y2="1361" stroke="#000" stroke-width="1.0" />
<line x1="237" y1="1320" x2="237" y2="1366" stroke="#000" stroke-width="1.0" />
<line x1="325.1" y1="1316" x2="325.1" y2="1366" stroke="#000" stroke-width="1.0" />
<line x1="232.5" y1="1365.5" x2="241.5" y2="1356.5" stroke="#000" stroke-width="2.4" />
<line x1="320.6" y1="1365.5" x2="329.6" y2="1356.5" stroke="#000" stroke-width="2.4" />
<text x="248.2" y="1356.5" font-size="20.5" text-anchor="start" fill="#000" textLength="9.3" lengthAdjust="spacingAndGlyphs" xml:space="preserve" >2</text>
<text x="257.8" y="1348.2" font-size="12.5" text-anchor="start" fill="#000" textLength="5.7" lengthAdjust="spacingAndGlyphs" xml:space="preserve" >1</text>
<line x1="257.3" y1="1350" x2="264" y2="1350" stroke="#000" stroke-width="1.1" />
<text x="257.8" y="1360.3" font-size="12.5" text-anchor="start" fill="#000" textLength="5.7" lengthAdjust="spacingAndGlyphs" xml:space="preserve" >4</text>
<text x="264.3" y="1350" font-size="15" text-anchor="start" fill="#000" textLength="6.2" lengthAdjust="spacingAndGlyphs" xml:space="preserve" >"</text>
<text x="223.5" y="1381.6" font-size="19.5" text-anchor="start" fill="#000" textLength="77.5" lengthAdjust="spacingAndGlyphs" xml:space="preserve" >[57.27mm]</text>
<text x="320.5" y="1380.8" font-size="15" text-anchor="start" fill="#000" textLength="10" lengthAdjust="spacingAndGlyphs" xml:space="preserve" >C</text>
<polyline points="325.6,1368.5 325.6,1381 330.5,1381" fill="none" stroke="#000" stroke-width="1.1" />
<line x1="206.6" y1="1261.2" x2="206.6" y2="1313.9" stroke="#000" stroke-width="1.0" />
<line x1="196.7" y1="1271.1" x2="227.6" y2="1271.1" stroke="#000" stroke-width="1.0" />
<line x1="202.1" y1="1266.6" x2="211.1" y2="1275.6" stroke="#000" stroke-width="2.4" />
<line x1="202.1" y1="1299.5" x2="211.1" y2="1308.5" stroke="#000" stroke-width="2.4" />
<text transform="translate(194,1306.5) rotate(-90)" font-size="21.5" textLength="76.5" lengthAdjust="spacingAndGlyphs">[21.47mm]</text>
<text transform="translate(185.2,1325.5) rotate(-90)" font-size="15.5" textLength="7" lengthAdjust="spacingAndGlyphs">7</text>
<text transform="translate(199.9,1325.8) rotate(-90)" font-size="15.5" textLength="7" lengthAdjust="spacingAndGlyphs">8</text>
<text transform="translate(186,1318) rotate(-90)" font-size="13">"</text>
<clipPath id="circ"><circle cx="909.3" cy="447.3" r="270.5"/></clipPath>
<g clip-path="url(#circ)">
<rect x="600" y="150" width="620" height="600" fill="#fff"/>
<g transform="translate(582.3,-798.2)"><rect x="64.3" y="431.5" width="15.6" height="872.5" fill="url(#sheath)" stroke="none" stroke-width="0" /><line x1="62.5" y1="431.5" x2="62.5" y2="1304" stroke="#000" stroke-width="1.2" /><line x1="82" y1="431.5" x2="82" y2="1304" stroke="#000" stroke-width="1.4" /><path d="M108.6,236.6 C94.6,239.68 82.1,248.35 82.1,263.85 C82.1,279.35 94.6,288.02 108.6,291.1M191.1,263.85 C205.1,266.93 217.6,275.6 217.6,291.1 C217.6,306.6 205.1,315.27 191.1,318.35M108.6,236.6 C145.72,244.77 153.97,255.68 191.1,263.85M108.6,291.1 C145.72,282.93 153.97,272.02 191.1,263.85M108.6,291.1 C94.6,294.18 82.1,302.85 82.1,318.35 C82.1,333.85 94.6,342.52 108.6,345.6M191.1,318.35 C205.1,321.43 217.6,330.1 217.6,345.6 C217.6,361.1 205.1,369.77 191.1,372.85M108.6,291.1 C145.72,299.27 153.97,310.18 191.1,318.35M108.6,345.6 C145.72,337.43 153.97,326.52 191.1,318.35M108.6,345.6 C94.6,348.68 82.1,357.35 82.1,372.85 C82.1,388.35 94.6,397.02 108.6,400.1M191.1,372.85 C205.1,375.93 217.6,384.6 217.6,400.1 C217.6,415.6 205.1,424.27 191.1,427.35M108.6,345.6 C145.72,353.77 153.97,364.68 191.1,372.85M108.6,400.1 C145.72,391.93 153.97,381.02 191.1,372.85M108.6,400.1 C94.6,403.18 82.1,411.85 82.1,427.35 C82.1,442.85 94.6,451.52 108.6,454.6M191.1,427.35 C205.1,430.43 217.6,439.1 217.6,454.6 C217.6,470.1 205.1,478.77 191.1,481.85M108.6,400.1 C145.72,408.27 153.97,419.18 191.1,427.35M108.6,454.6 C145.72,446.43 153.97,435.52 191.1,427.35M108.6,454.6 C94.6,457.68 82.1,466.35 82.1,481.85 C82.1,497.35 94.6,506.02 108.6,509.1M191.1,481.85 C205.1,484.93 217.6,493.6 217.6,509.1 C217.6,524.6 205.1,533.27 191.1,536.35M108.6,454.6 C145.72,462.77 153.97,473.68 191.1,481.85M108.6,509.1 C145.72,500.93 153.97,490.02 191.1,481.85M108.6,509.1 C94.6,512.18 82.1,520.85 82.1,536.35 C82.1,551.85 94.6,560.52 108.6,563.6M191.1,536.35 C205.1,539.43 217.6,548.1 217.6,563.6 C217.6,579.1 205.1,587.77 191.1,590.85M108.6,509.1 C145.72,517.27 153.97,528.18 191.1,536.35M108.6,563.6 C145.72,555.43 153.97,544.52 191.1,536.35M108.6,563.6 C94.6,566.68 82.1,575.35 82.1,590.85 C82.1,606.35 94.6,615.02 108.6,618.1M191.1,590.85 C205.1,593.93 217.6,602.6 217.6,618.1 C217.6,633.6 205.1,642.27 191.1,645.35M108.6,563.6 C145.72,571.77 153.97,582.68 191.1,590.85M108.6,618.1 C145.72,609.93 153.97,599.02 191.1,590.85M108.6,618.1 C94.6,621.18 82.1,629.85 82.1,645.35 C82.1,660.85 94.6,669.52 108.6,672.6M191.1,645.35 C205.1,648.43 217.6,657.1 217.6,672.6 C217.6,688.1 205.1,696.77 191.1,699.85M108.6,618.1 C145.72,626.27 153.97,637.18 191.1,645.35M108.6,672.6 C145.72,664.43 153.97,653.52 191.1,645.35M108.6,672.6 C94.6,675.68 82.1,684.35 82.1,699.85 C82.1,715.35 94.6,724.02 108.6,727.1M191.1,699.85 C205.1,702.93 217.6,711.6 217.6,727.1 C217.6,742.6 205.1,751.27 191.1,754.35M108.6,672.6 C145.72,680.77 153.97,691.68 191.1,699.85M108.6,727.1 C145.72,718.93 153.97,708.02 191.1,699.85M108.6,727.1 C94.6,730.18 82.1,738.85 82.1,754.35 C82.1,769.85 94.6,778.52 108.6,781.6M191.1,754.35 C205.1,757.43 217.6,766.1 217.6,781.6 C217.6,797.1 205.1,805.77 191.1,808.85M108.6,727.1 C145.72,735.27 153.97,746.18 191.1,754.35M108.6,781.6 C145.72,773.43 153.97,762.52 191.1,754.35M108.6,781.6 C94.6,784.68 82.1,793.35 82.1,808.85 C82.1,824.35 94.6,833.02 108.6,836.1M191.1,808.85 C205.1,811.93 217.6,820.6 217.6,836.1 C217.6,851.6 205.1,860.27 191.1,863.35M108.6,781.6 C145.72,789.77 153.97,800.68 191.1,808.85M108.6,836.1 C145.72,827.93 153.97,817.02 191.1,808.85M108.6,836.1 C94.6,839.18 82.1,847.85 82.1,863.35 C82.1,878.85 94.6,887.52 108.6,890.6M191.1,863.35 C205.1,866.43 217.6,875.1 217.6,890.6 C217.6,906.1 205.1,914.77 191.1,917.85M108.6,836.1 C145.72,844.27 153.97,855.18 191.1,863.35M108.6,890.6 C145.72,882.43 153.97,871.52 191.1,863.35M108.6,890.6 C94.6,893.68 82.1,902.35 82.1,917.85 C82.1,933.35 94.6,942.02 108.6,945.1M191.1,917.85 C205.1,920.93 217.6,929.6 217.6,945.1 C217.6,960.6 205.1,969.27 191.1,972.35M108.6,890.6 C145.72,898.77 153.97,909.68 191.1,917.85M108.6,945.1 C145.72,936.93 153.97,926.02 191.1,917.85M108.6,945.1 C94.6,948.18 82.1,956.85 82.1,972.35 C82.1,987.85 94.6,996.52 108.6,999.6M191.1,972.35 C205.1,975.43 217.6,984.1 217.6,999.6 C217.6,1015.1 205.1,1023.77 191.1,1026.85M108.6,945.1 C145.72,953.27 153.97,964.18 191.1,972.35M108.6,999.6 C145.72,991.43 153.97,980.52 191.1,972.35M108.6,999.6 C94.6,1002.68 82.1,1011.35 82.1,1026.85 C82.1,1042.35 94.6,1051.02 108.6,1054.1M191.1,1026.85 C205.1,1029.93 217.6,1038.6 217.6,1054.1 C217.6,1069.6 205.1,1078.27 191.1,1081.35M108.6,999.6 C145.72,1007.77 153.97,1018.68 191.1,1026.85M108.6,1054.1 C145.72,1045.93 153.97,1035.02 191.1,1026.85M108.6,1054.1 C94.6,1057.18 82.1,1065.85 82.1,1081.35 C82.1,1096.85 94.6,1105.52 108.6,1108.6M191.1,1081.35 C205.1,1084.43 217.6,1093.1 217.6,1108.6 C217.6,1124.1 205.1,1132.77 191.1,1135.85M108.6,1054.1 C145.72,1062.27 153.97,1073.18 191.1,1081.35M108.6,1108.6 C145.72,1100.43 153.97,1089.52 191.1,1081.35M108.6,1108.6 C94.6,1111.68 82.1,1120.35 82.1,1135.85 C82.1,1151.35 94.6,1160.02 108.6,1163.1M191.1,1135.85 C205.1,1138.93 217.6,1147.6 217.6,1163.1 C217.6,1178.6 205.1,1187.27 191.1,1190.35M108.6,1108.6 C145.72,1116.77 153.97,1127.68 191.1,1135.85M108.6,1163.1 C145.72,1154.93 153.97,1144.02 191.1,1135.85M108.6,1163.1 C94.6,1166.18 82.1,1174.85 82.1,1190.35 C82.1,1205.85 94.6,1214.52 108.6,1217.6M191.1,1190.35 C205.1,1193.43 217.6,1202.1 217.6,1217.6 C217.6,1233.1 205.1,1241.77 191.1,1244.85M108.6,1163.1 C145.72,1171.27 153.97,1182.18 191.1,1190.35M108.6,1217.6 C145.72,1209.43 153.97,1198.52 191.1,1190.35M108.6,1217.6 C94.6,1220.68 82.1,1229.35 82.1,1244.85 C82.1,1260.35 94.6,1269.02 108.6,1272.1M191.1,1244.85 C205.1,1247.93 217.6,1256.6 217.6,1272.1 C217.6,1287.6 205.1,1296.27 191.1,1299.35M108.6,1217.6 C145.72,1225.77 153.97,1236.68 191.1,1244.85M108.6,1272.1 C145.72,1263.93 153.97,1253.02 191.1,1244.85M108.6,1272.1 C94.6,1275.18 82.1,1283.85 82.1,1299.35 C82.1,1314.85 94.6,1323.52 108.6,1326.6M191.1,1299.35 C205.1,1302.43 217.6,1311.1 217.6,1326.6 C217.6,1342.1 205.1,1350.77 191.1,1353.85M108.6,1272.1 C145.72,1280.27 153.97,1291.18 191.1,1299.35M108.6,1326.6 C145.72,1318.43 153.97,1307.52 191.1,1299.35M108.6,1326.6 C94.6,1329.68 82.1,1338.35 82.1,1353.85 C82.1,1369.35 94.6,1378.02 108.6,1381.1M191.1,1353.85 C205.1,1356.93 217.6,1365.6 217.6,1381.1 C217.6,1396.6 205.1,1405.27 191.1,1408.35M108.6,1326.6 C145.72,1334.77 153.97,1345.68 191.1,1353.85M108.6,1381.1 C145.72,1372.93 153.97,1362.02 191.1,1353.85" fill="none" stroke="#000" stroke-width="1.15" clip-path="url(#insclip)"/><rect x="159.7" y="1032.7" width="58.1" height="212.9" fill="#fff" stroke="#000" stroke-width="1.3" /><line x1="159.7" y1="1032.7" x2="217.8" y2="1245.6" stroke="#000" stroke-width="1.1" /><line x1="217.8" y1="1032.7" x2="159.7" y2="1245.6" stroke="#000" stroke-width="1.1" /><rect x="82.1" y="1245.6" width="135.7" height="58.4" fill="#fff" stroke="#000" stroke-width="1.3" /><line x1="82.1" y1="1245.6" x2="217.8" y2="1304" stroke="#000" stroke-width="1.1" /><line x1="217.8" y1="1245.6" x2="82.1" y2="1304" stroke="#000" stroke-width="1.1" /><rect x="217.6" y="431.5" width="19.1" height="872.5" fill="url(#gyp)" stroke="none" stroke-width="0" /><line x1="217.5" y1="431.5" x2="217.5" y2="1304" stroke="#000" stroke-width="1.3" /><rect x="239.6" y="431.5" width="7" height="820.5" fill="url(#thin)" stroke="none" stroke-width="0" /><line x1="246.6" y1="431.5" x2="246.6" y2="1252" stroke="#000" stroke-width="1.1" /><line x1="236.8" y1="431.5" x2="236.8" y2="1250" stroke="#777" stroke-width="0.8" /><line x1="238.25" y1="431.5" x2="238.25" y2="1250" stroke="#000" stroke-width="3.1" stroke-dasharray="20.2 8.9" stroke-dashoffset="26.4"/><polyline points="246.6,794.2 255.8,794.2 255.8,431.5" fill="none" stroke="#000" stroke-width="1.3" /><polyline points="246.6,799.3 255.8,799.3 255.8,1252.4" fill="none" stroke="#000" stroke-width="1.3" /></g>
<rect x="889.3" y="380" width="30.4" height="200" fill="#fff" stroke="none" stroke-width="0" />
<rect x="819.5" y="473.5" width="69.8" height="32.5" fill="url(#mort)" stroke="none" stroke-width="0" />
<polygon points="876.8,472.5 916.4,486.2 889.3,496" fill="url(#mort)" stroke="none" stroke-width="1" />
<rect x="819.5" y="500.9" width="69.8" height="5" fill="#8a8a8a" stroke="none" stroke-width="0" />
<polyline points="819.5,497 862.7,505.7 870.9,494.3 889.3,497.6" fill="none" stroke="#000" stroke-width="1.1" />
<polygon points="819.5,451.8 889.3,451.8 889.3,456.9 864.9,467.8 876.8,470 819.5,470" fill="url(#thin)" stroke="none" stroke-width="1" />
<rect x="822.6" y="440" width="16" height="12" fill="#fff" stroke="none" stroke-width="0" />
<line x1="838.3" y1="430" x2="838.3" y2="442" stroke="#000" stroke-width="1.2" />
<polygon points="823.6,442.2 889.3,443 889.3,451.8 823.6,451.8" fill="#fff" stroke="#000" stroke-width="1.3" />
<line x1="820.9" y1="420" x2="820.9" y2="474" stroke="#000" stroke-width="2.8" />
<line x1="820" y1="471.8" x2="844" y2="471.8" stroke="#000" stroke-width="3.6" />
<line x1="853" y1="471.8" x2="877" y2="471.8" stroke="#000" stroke-width="3.6" />
<polyline points="876.8,472.5 916.4,486.2 889.3,496" fill="none" stroke="#000" stroke-width="1.1" />
<rect x="919.7" y="473.5" width="73.5" height="32.5" fill="url(#mort)" stroke="none" stroke-width="0" />
<polygon points="919.7,474 947,485.1 919.7,494.9" fill="#fff" stroke="#000" stroke-width="1.1" />
<rect x="919.7" y="501.3" width="73.3" height="4.7" fill="#8a8a8a" stroke="none" stroke-width="0" />
<polyline points="920.5,504.7 933,494 990.2,504.7" fill="none" stroke="#000" stroke-width="1.1" />
<polygon points="919.7,453.6 990.6,454.7 990.6,470.5 906,471.9 892.6,467.2 919.7,456.9" fill="url(#thin)" stroke="none" stroke-width="1" />
<line x1="906" y1="472" x2="993" y2="472.5" stroke="#000" stroke-width="3.6" stroke-dasharray="20 8"/>
<polygon points="919.7,443.3 990.6,445.1 990.6,454.7 919.7,453.6" fill="#fff" stroke="#000" stroke-width="1.3" />
<rect x="1094" y="473.5" width="110" height="32.5" fill="url(#mort)" stroke="none" stroke-width="0" />
<rect x="1094" y="501.5" width="110" height="4.5" fill="#8a8a8a" stroke="none" stroke-width="0" />
<polyline points="1097.7,501.9 1152,493 1159,504.7 1175.8,502 1200,500" fill="none" stroke="#000" stroke-width="1.1" />
<polygon points="1094,454.7 1200,454.7 1200,471 1094,471" fill="url(#thin)" stroke="none" stroke-width="1" />
<line x1="1094" y1="472" x2="1200" y2="472" stroke="#000" stroke-width="3.6" stroke-dasharray="24 6"/>
<polygon points="1095.9,445.1 1200,445.1 1200,454.7 1095.9,454.7" fill="#fff" stroke="#000" stroke-width="1.3" />
<line x1="889.3" y1="386" x2="889.3" y2="457" stroke="#000" stroke-width="1.2" />
<line x1="919.7" y1="386" x2="919.7" y2="457" stroke="#000" stroke-width="1.2" />
<line x1="889.3" y1="496" x2="889.3" y2="569.8" stroke="#000" stroke-width="1.2" />
<line x1="919.7" y1="495" x2="919.7" y2="569.8" stroke="#000" stroke-width="1.2" />
<clipPath id="pw3"><rect x="630" y="506.3" width="259.3" height="29.1"/></clipPath>
<rect x="630" y="506.3" width="259.3" height="29.1" fill="#fff"/>
<path d="M615.7,516 L624.2,506.3 M615.7,516 L624.2,525.7 L615.2,535.4M625.3,516 L633.8,506.3 M625.3,516 L633.8,525.7 L624.8,535.4M634.9,516 L643.4,506.3 M634.9,516 L643.4,525.7 L634.4,535.4M644.5,516 L653,506.3 M644.5,516 L653,525.7 L644,535.4M654.1,516 L662.6,506.3 M654.1,516 L662.6,525.7 L653.6,535.4M663.7,516 L672.2,506.3 M663.7,516 L672.2,525.7 L663.2,535.4M673.3,516 L681.8,506.3 M673.3,516 L681.8,525.7 L672.8,535.4M682.9,516 L691.4,506.3 M682.9,516 L691.4,525.7 L682.4,535.4M692.5,516 L701,506.3 M692.5,516 L701,525.7 L692,535.4M702.1,516 L710.6,506.3 M702.1,516 L710.6,525.7 L701.6,535.4M711.7,516 L720.2,506.3 M711.7,516 L720.2,525.7 L711.2,535.4M721.3,516 L729.8,506.3 M721.3,516 L729.8,525.7 L720.8,535.4M730.9,516 L739.4,506.3 M730.9,516 L739.4,525.7 L730.4,535.4M740.5,516 L749,506.3 M740.5,516 L749,525.7 L740,535.4M750.1,516 L758.6,506.3 M750.1,516 L758.6,525.7 L749.6,535.4M759.7,516 L768.2,506.3 M759.7,516 L768.2,525.7 L759.2,535.4M769.3,516 L777.8,506.3 M769.3,516 L777.8,525.7 L768.8,535.4M778.9,516 L787.4,506.3 M778.9,516 L787.4,525.7 L778.4,535.4M788.5,516 L797,506.3 M788.5,516 L797,525.7 L788,535.4M798.1,516 L806.6,506.3 M798.1,516 L806.6,525.7 L797.6,535.4M807.7,516 L816.2,506.3 M807.7,516 L816.2,525.7 L807.2,535.4M817.3,516 L825.8,506.3 M817.3,516 L825.8,525.7 L816.8,535.4M826.9,516 L835.4,506.3 M826.9,516 L835.4,525.7 L826.4,535.4M836.5,516 L845,506.3 M836.5,516 L845,525.7 L836,535.4M846.1,516 L854.6,506.3 M846.1,516 L854.6,525.7 L845.6,535.4M855.7,516 L864.2,506.3 M855.7,516 L864.2,525.7 L855.2,535.4M865.3,516 L873.8,506.3 M865.3,516 L873.8,525.7 L864.8,535.4M874.9,516 L883.4,506.3 M874.9,516 L883.4,525.7 L874.4,535.4M884.5,516 L893,506.3 M884.5,516 L893,525.7 L884,535.4M894.1,516 L902.6,506.3 M894.1,516 L902.6,525.7 L893.6,535.4" stroke="#000" stroke-width="1.1" fill="none" clip-path="url(#pw3)"/>
<line x1="630" y1="516" x2="889.3" y2="516" stroke="#666" stroke-width="1.3" />
<line x1="630" y1="525.7" x2="889.3" y2="525.7" stroke="#000" stroke-width="1.2" />
<line x1="630" y1="506.3" x2="889.3" y2="506.3" stroke="#000" stroke-width="1.3" />
<line x1="630" y1="535.4" x2="889.3" y2="535.4" stroke="#000" stroke-width="1.3" />
<line x1="630" y1="506.3" x2="630" y2="535.4" stroke="#000" stroke-width="1.2" />
<line x1="889.3" y1="506.3" x2="889.3" y2="535.4" stroke="#000" stroke-width="1.2" />
<clipPath id="pw4"><rect x="919.7" y="506.3" width="76.9" height="29.1"/></clipPath>
<rect x="919.7" y="506.3" width="76.9" height="29.1" fill="#fff"/>
<path d="M894.1,516 L902.6,506.3 M894.1,516 L902.6,525.7 L893.6,535.4M903.7,516 L912.2,506.3 M903.7,516 L912.2,525.7 L903.2,535.4M913.3,516 L921.8,506.3 M913.3,516 L921.8,525.7 L912.8,535.4M922.9,516 L931.4,506.3 M922.9,516 L931.4,525.7 L922.4,535.4M932.5,516 L941,506.3 M932.5,516 L941,525.7 L932,535.4M942.1,516 L950.6,506.3 M942.1,516 L950.6,525.7 L941.6,535.4M951.7,516 L960.2,506.3 M951.7,516 L960.2,525.7 L951.2,535.4M961.3,516 L969.8,506.3 M961.3,516 L969.8,525.7 L960.8,535.4M970.9,516 L979.4,506.3 M970.9,516 L979.4,525.7 L970.4,535.4M980.5,516 L989,506.3 M980.5,516 L989,525.7 L980,535.4M990.1,516 L998.6,506.3 M990.1,516 L998.6,525.7 L989.6,535.4M999.7,516 L1008.2,506.3 M999.7,516 L1008.2,525.7 L999.2,535.4" stroke="#000" stroke-width="1.1" fill="none" clip-path="url(#pw4)"/>
<line x1="919.7" y1="516" x2="996.6" y2="516" stroke="#666" stroke-width="1.3" />
<line x1="919.7" y1="525.7" x2="996.6" y2="525.7" stroke="#000" stroke-width="1.2" />
<line x1="919.7" y1="506.3" x2="996.6" y2="506.3" stroke="#000" stroke-width="1.3" />
<line x1="919.7" y1="535.4" x2="996.6" y2="535.4" stroke="#000" stroke-width="1.3" />
<line x1="919.7" y1="506.3" x2="919.7" y2="535.4" stroke="#000" stroke-width="1.2" />
<line x1="996.6" y1="506.3" x2="996.6" y2="535.4" stroke="#000" stroke-width="1.2" />
<clipPath id="pw5"><rect x="1093.4" y="506.3" width="106.6" height="29.1"/></clipPath>
<rect x="1093.4" y="506.3" width="106.6" height="29.1" fill="#fff"/>
<path d="M1066.9,516 L1075.4,506.3 M1066.9,516 L1075.4,525.7 L1066.4,535.4M1076.5,516 L1085,506.3 M1076.5,516 L1085,525.7 L1076,535.4M1086.1,516 L1094.6,506.3 M1086.1,516 L1094.6,525.7 L1085.6,535.4M1095.7,516 L1104.2,506.3 M1095.7,516 L1104.2,525.7 L1095.2,535.4M1105.3,516 L1113.8,506.3 M1105.3,516 L1113.8,525.7 L1104.8,535.4M1114.9,516 L1123.4,506.3 M1114.9,516 L1123.4,525.7 L1114.4,535.4M1124.5,516 L1133,506.3 M1124.5,516 L1133,525.7 L1124,535.4M1134.1,516 L1142.6,506.3 M1134.1,516 L1142.6,525.7 L1133.6,535.4M1143.7,516 L1152.2,506.3 M1143.7,516 L1152.2,525.7 L1143.2,535.4M1153.3,516 L1161.8,506.3 M1153.3,516 L1161.8,525.7 L1152.8,535.4M1162.9,516 L1171.4,506.3 M1162.9,516 L1171.4,525.7 L1162.4,535.4M1172.5,516 L1181,506.3 M1172.5,516 L1181,525.7 L1172,535.4M1182.1,516 L1190.6,506.3 M1182.1,516 L1190.6,525.7 L1181.6,535.4M1191.7,516 L1200.2,506.3 M1191.7,516 L1200.2,525.7 L1191.2,535.4M1201.3,516 L1209.8,506.3 M1201.3,516 L1209.8,525.7 L1200.8,535.4" stroke="#000" stroke-width="1.1" fill="none" clip-path="url(#pw5)"/>
<line x1="1093.4" y1="516" x2="1200" y2="516" stroke="#666" stroke-width="1.3" />
<line x1="1093.4" y1="525.7" x2="1200" y2="525.7" stroke="#000" stroke-width="1.2" />
<line x1="1093.4" y1="506.3" x2="1200" y2="506.3" stroke="#000" stroke-width="1.3" />
<line x1="1093.4" y1="535.4" x2="1200" y2="535.4" stroke="#000" stroke-width="1.3" />
<line x1="1093.4" y1="506.3" x2="1093.4" y2="535.4" stroke="#000" stroke-width="1.2" />
<line x1="1200" y1="506.3" x2="1200" y2="535.4" stroke="#000" stroke-width="1.2" />
<path d="M994.1,454.7 L996.6,479.9 L1089.8,479.9 L1092.6,454.7" fill="#fff" stroke="#000" stroke-width="1.1"/>
<line x1="997" y1="475.9" x2="1089.5" y2="475.9" stroke="#444" stroke-width="1.0" />
<line x1="1000" y1="473.3" x2="1087" y2="473.3" stroke="#888" stroke-width="0.7" stroke-dasharray="8 10"/>
<line x1="994" y1="449.7" x2="1092.6" y2="449.7" stroke="#888" stroke-width="1.0" />
<rect x="994.1" y="445.1" width="10.5" height="9.6" fill="#000" stroke="none" stroke-width="0" />
<rect x="1008.2" y="445.1" width="10.5" height="9.6" fill="#000" stroke="none" stroke-width="0" />
<rect x="1023.1" y="445.1" width="10.5" height="9.6" fill="#000" stroke="none" stroke-width="0" />
<rect x="1038" y="445.1" width="10.5" height="9.6" fill="#000" stroke="none" stroke-width="0" />
<rect x="1052.4" y="445.1" width="10.5" height="9.6" fill="#000" stroke="none" stroke-width="0" />
<rect x="1067.1" y="445.1" width="10.5" height="9.6" fill="#000" stroke="none" stroke-width="0" />
<rect x="1082" y="445.1" width="10.5" height="9.6" fill="#000" stroke="none" stroke-width="0" />
<line x1="993.1" y1="472.5" x2="993.1" y2="505.5" stroke="#000" stroke-width="3.2" />
<line x1="1093.4" y1="472.5" x2="1093.4" y2="505.5" stroke="#000" stroke-width="3.2" />
<path d="M992,505.2 Q1043,508.5 1094.5,505.2" fill="none" stroke="#000" stroke-width="3.4"/>
<line x1="988" y1="472.2" x2="993.1" y2="472.2" stroke="#000" stroke-width="3" />
<line x1="1093.4" y1="472.2" x2="1100" y2="472.2" stroke="#000" stroke-width="3" />
<path d="M1003.2,480 L1003.2,497 L1000.2,503.5 L1018.8,503.5 L1015.3,497 L1015.3,480" fill="none" stroke="#000" stroke-width="1.0"/>
<line x1="1003.2" y1="497" x2="1015.3" y2="497" stroke="#000" stroke-width="0.9" />
<path d="M1071.7,480 L1071.7,497 L1068.2,503.5 L1086,503.5 L1082.8,497 L1082.8,480" fill="none" stroke="#000" stroke-width="1.0"/>
<line x1="1071.7" y1="497" x2="1082.8" y2="497" stroke="#000" stroke-width="0.9" />
<line x1="996.6" y1="508" x2="996.6" y2="720" stroke="#000" stroke-width="1.2" />
<line x1="1089.8" y1="508" x2="1089.8" y2="720" stroke="#000" stroke-width="1.2" />
<line x1="996.6" y1="509.5" x2="1089.8" y2="509.5" stroke="#000" stroke-width="0.9" />
<rect x="993.3" y="573.3" width="99.7" height="97.2" fill="url(#coup)" stroke="#000" stroke-width="1.3" />
<line x1="995" y1="621" x2="1040" y2="621" stroke="#aaa" stroke-width="0.7" />
<line x1="1050" y1="621" x2="1090" y2="621" stroke="#aaa" stroke-width="0.7" />
<rect x="993.3" y="588.1" width="99.7" height="19.4" fill="#fff" stroke="#000" stroke-width="1.4" />
<path d="M994.9,592.7 a1.2,5.1 0 1 0 0.01,0 zM997.65,592.7 a1.2,5.1 0 1 0 0.01,0 zM1000.4,592.7 a1.2,5.1 0 1 0 0.01,0 zM1003.15,592.7 a1.2,5.1 0 1 0 0.01,0 zM1005.9,592.7 a1.2,5.1 0 1 0 0.01,0 zM1008.65,592.7 a1.2,5.1 0 1 0 0.01,0 zM1011.4,592.7 a1.2,5.1 0 1 0 0.01,0 zM1014.15,592.7 a1.2,5.1 0 1 0 0.01,0 zM1016.9,592.7 a1.2,5.1 0 1 0 0.01,0 zM1019.65,592.7 a1.2,5.1 0 1 0 0.01,0 zM1022.4,592.7 a1.2,5.1 0 1 0 0.01,0 zM1025.15,592.7 a1.2,5.1 0 1 0 0.01,0 zM1027.9,592.7 a1.2,5.1 0 1 0 0.01,0 zM1030.65,592.7 a1.2,5.1 0 1 0 0.01,0 zM1033.4,592.7 a1.2,5.1 0 1 0 0.01,0 zM1036.15,592.7 a1.2,5.1 0 1 0 0.01,0 zM1038.9,592.7 a1.2,5.1 0 1 0 0.01,0 zM1041.65,592.7 a1.2,5.1 0 1 0 0.01,0 zM1044.4,592.7 a1.2,5.1 0 1 0 0.01,0 zM1047.15,592.7 a1.2,5.1 0 1 0 0.01,0 zM1049.9,592.7 a1.2,5.1 0 1 0 0.01,0 zM1052.65,592.7 a1.2,5.1 0 1 0 0.01,0 zM1055.4,592.7 a1.2,5.1 0 1 0 0.01,0 zM1058.15,592.7 a1.2,5.1 0 1 0 0.01,0 zM1060.9,592.7 a1.2,5.1 0 1 0 0.01,0 zM1063.65,592.7 a1.2,5.1 0 1 0 0.01,0 zM1066.4,592.7 a1.2,5.1 0 1 0 0.01,0 zM1069.15,592.7 a1.2,5.1 0 1 0 0.01,0 zM1071.9,592.7 a1.2,5.1 0 1 0 0.01,0 zM1074.65,592.7 a1.2,5.1 0 1 0 0.01,0 zM1077.4,592.7 a1.2,5.1 0 1 0 0.01,0 zM1080.15,592.7 a1.2,5.1 0 1 0 0.01,0 zM1082.9,592.7 a1.2,5.1 0 1 0 0.01,0 zM1085.65,592.7 a1.2,5.1 0 1 0 0.01,0 zM1088.4,592.7 a1.2,5.1 0 1 0 0.01,0 zM1091.15,592.7 a1.2,5.1 0 1 0 0.01,0 z" fill="none" stroke="#111" stroke-width="1.15"/>
<path d="M1093,588.1 L1105.3,588.1 A9.7,9.7 0 0 1 1105.3,607.5 L1093,607.5" fill="#fff" stroke="#000" stroke-width="1.3"/>
<circle cx="1105.3" cy="597.8" r="6.3" fill="#fff" stroke="#000" stroke-width="1.6"/>
<line x1="1105.3" y1="592.5" x2="1105.3" y2="603.1" stroke="#000" stroke-width="1.6" />
<line x1="1100" y1="597.8" x2="1110.6" y2="597.8" stroke="#000" stroke-width="1.6" />
<rect x="993.3" y="636.7" width="99.7" height="19.4" fill="#fff" stroke="#000" stroke-width="1.4" />
<path d="M994.9,641.3 a1.2,5.1 0 1 0 0.01,0 zM997.65,641.3 a1.2,5.1 0 1 0 0.01,0 zM1000.4,641.3 a1.2,5.1 0 1 0 0.01,0 zM1003.15,641.3 a1.2,5.1 0 1 0 0.01,0 zM1005.9,641.3 a1.2,5.1 0 1 0 0.01,0 zM1008.65,641.3 a1.2,5.1 0 1 0 0.01,0 zM1011.4,641.3 a1.2,5.1 0 1 0 0.01,0 zM1014.15,641.3 a1.2,5.1 0 1 0 0.01,0 zM1016.9,641.3 a1.2,5.1 0 1 0 0.01,0 zM1019.65,641.3 a1.2,5.1 0 1 0 0.01,0 zM1022.4,641.3 a1.2,5.1 0 1 0 0.01,0 zM1025.15,641.3 a1.2,5.1 0 1 0 0.01,0 zM1027.9,641.3 a1.2,5.1 0 1 0 0.01,0 zM1030.65,641.3 a1.2,5.1 0 1 0 0.01,0 zM1033.4,641.3 a1.2,5.1 0 1 0 0.01,0 zM1036.15,641.3 a1.2,5.1 0 1 0 0.01,0 zM1038.9,641.3 a1.2,5.1 0 1 0 0.01,0 zM1041.65,641.3 a1.2,5.1 0 1 0 0.01,0 zM1044.4,641.3 a1.2,5.1 0 1 0 0.01,0 zM1047.15,641.3 a1.2,5.1 0 1 0 0.01,0 zM1049.9,641.3 a1.2,5.1 0 1 0 0.01,0 zM1052.65,641.3 a1.2,5.1 0 1 0 0.01,0 zM1055.4,641.3 a1.2,5.1 0 1 0 0.01,0 zM1058.15,641.3 a1.2,5.1 0 1 0 0.01,0 zM1060.9,641.3 a1.2,5.1 0 1 0 0.01,0 zM1063.65,641.3 a1.2,5.1 0 1 0 0.01,0 zM1066.4,641.3 a1.2,5.1 0 1 0 0.01,0 zM1069.15,641.3 a1.2,5.1 0 1 0 0.01,0 zM1071.9,641.3 a1.2,5.1 0 1 0 0.01,0 zM1074.65,641.3 a1.2,5.1 0 1 0 0.01,0 zM1077.4,641.3 a1.2,5.1 0 1 0 0.01,0 zM1080.15,641.3 a1.2,5.1 0 1 0 0.01,0 zM1082.9,641.3 a1.2,5.1 0 1 0 0.01,0 zM1085.65,641.3 a1.2,5.1 0 1 0 0.01,0 zM1088.4,641.3 a1.2,5.1 0 1 0 0.01,0 zM1091.15,641.3 a1.2,5.1 0 1 0 0.01,0 z" fill="none" stroke="#111" stroke-width="1.15"/>
<path d="M1093,636.7 L1105.3,636.7 A9.7,9.7 0 0 1 1105.3,656.1 L1093,656.1" fill="#fff" stroke="#000" stroke-width="1.3"/>
<circle cx="1105.3" cy="646.4" r="6.3" fill="#fff" stroke="#000" stroke-width="1.6"/>
<line x1="1105.3" y1="641.1" x2="1105.3" y2="651.7" stroke="#000" stroke-width="1.6" />
<line x1="1100" y1="646.4" x2="1110.6" y2="646.4" stroke="#000" stroke-width="1.6" />
<line x1="780.7" y1="534.9" x2="780.7" y2="720" stroke="#000" stroke-width="1.2" />
<line x1="838.5" y1="534.9" x2="838.5" y2="720" stroke="#000" stroke-width="1.2" />
<line x1="781.3" y1="536.5" x2="814.3" y2="698.3" stroke="#000" stroke-width="1.0" />
<line x1="838.5" y1="536.5" x2="805.5" y2="698.3" stroke="#000" stroke-width="1.0" />
</g>
<path d="M1180.8,447.3 A271.5,271.5 0 0 1 909.3,718.8" fill="none" stroke="#000" stroke-width="3.8" stroke-dasharray="38.77 18.59 1.6 18.59"/>
<path d="M909.3,718.8 A271.5,271.5 0 0 1 637.8,447.3" fill="none" stroke="#000" stroke-width="3.8" stroke-dasharray="38.77 18.59 1.6 18.59"/>
<path d="M637.8,447.3 A271.5,271.5 0 0 1 909.3,175.8" fill="none" stroke="#000" stroke-width="3.8" stroke-dasharray="38.77 18.59 1.6 18.59"/>
<path d="M909.3,175.8 A271.5,271.5 0 0 1 1180.8,447.3" fill="none" stroke="#000" stroke-width="3.8" stroke-dasharray="38.77 18.59 1.6 18.59"/>
<line x1="832" y1="365.7" x2="1053" y2="365.7" stroke="#000" stroke-width="1.0" />
<line x1="833.6" y1="370.2" x2="842.6" y2="361.2" stroke="#000" stroke-width="2.4" />
<line x1="1038.8" y1="370.2" x2="1047.8" y2="361.2" stroke="#000" stroke-width="2.4" />
<text x="902.9" y="361" font-size="13" text-anchor="start" fill="#000" textLength="74.2" lengthAdjust="spacingAndGlyphs" xml:space="preserve" >FIELD VERIFY</text>
<polyline points="1084.8,187.4 1043.1,187.4 1043.1,454.4" fill="none" stroke="#1a1a1a" stroke-width="1.1" />
<polygon points="1043.1,454.4 1040.5,438.4 1045.7,438.4" fill="#1a1a1a" stroke="none" stroke-width="1" />
<polyline points="1126.8,288.8 1104.4,288.8 1104.4,445.5" fill="none" stroke="#1a1a1a" stroke-width="1.1" />
<polygon points="1104.4,445.5 1101.8,429.5 1107,429.5" fill="#1a1a1a" stroke="none" stroke-width="1" />
<rect x="1089.5" y="149.97" width="147.5" height="25.83" fill="#fff"/>
<text x="1092.5" y="169.8" font-size="20.6" text-anchor="start" fill="#000" textLength="142.5" lengthAdjust="spacingAndGlyphs" xml:space="preserve" >SELECTED DRAIN</text>
<rect x="1089.5" y="174.57" width="170" height="25.83" fill="#fff"/>
<text x="1092.5" y="194.4" font-size="20.6" text-anchor="start" fill="#000" textLength="165" lengthAdjust="spacingAndGlyphs" xml:space="preserve" >GRATE LOCATED AT</text>
<rect x="1089.5" y="198.77" width="175" height="25.83" fill="#fff"/>
<text x="1092.5" y="218.6" font-size="20.6" text-anchor="start" fill="#000" textLength="170" lengthAdjust="spacingAndGlyphs" xml:space="preserve" >SHOWER ENTRANCE</text>
<rect x="1089.5" y="223.57" width="106" height="25.83" fill="#fff"/>
<text x="1092.5" y="243.4" font-size="20.6" text-anchor="start" fill="#000" textLength="101" lengthAdjust="spacingAndGlyphs" xml:space="preserve" >OR CENTER.</text>
<rect x="1130.2" y="273.77" width="92.3" height="25.83" fill="#fff"/>
<text x="1133.2" y="293.6" font-size="20.6" text-anchor="start" fill="#000" textLength="87.3" lengthAdjust="spacingAndGlyphs" xml:space="preserve" >SELECTED</text>
<rect x="1130.2" y="298.57" width="100.6" height="25.83" fill="#fff"/>
<text x="1133.2" y="318.4" font-size="20.6" text-anchor="start" fill="#000" textLength="95.6" lengthAdjust="spacingAndGlyphs" xml:space="preserve" >FLOOR TILE</text>
<rect x="1130.2" y="322.37" width="91.3" height="25.83" fill="#fff"/>
<text x="1133.2" y="342.2" font-size="20.6" text-anchor="start" fill="#000" textLength="86.3" lengthAdjust="spacingAndGlyphs" xml:space="preserve" >OR STONE</text>
<polyline points="924.7,408.4 964.3,408.4 964.3,425.1 924.7,408.4" fill="none" stroke="#000" stroke-width="1.2" />
<text x="933" y="404.7" font-size="19" text-anchor="start" fill="#000" textLength="30.7" lengthAdjust="spacingAndGlyphs" xml:space="preserve" >1'-0"</text>
<text x="970" y="416" font-size="12" text-anchor="start" fill="#000" textLength="5" lengthAdjust="spacingAndGlyphs" xml:space="preserve" >1</text>
<line x1="969.5" y1="419.2" x2="976.5" y2="419.2" stroke="#000" stroke-width="1.1" />
<text x="970" y="428.7" font-size="12" text-anchor="start" fill="#000" textLength="5" lengthAdjust="spacingAndGlyphs" xml:space="preserve" >4</text>
<text x="976.5" y="419" font-size="12" text-anchor="start" fill="#000" xml:space="preserve" >"</text>
<polyline points="1130.6,408.4 1171.6,408.4 1130.6,425.1 1130.6,408.4" fill="none" stroke="#000" stroke-width="1.2" />
<text x="1134" y="404.7" font-size="19" text-anchor="start" fill="#000" textLength="32" lengthAdjust="spacingAndGlyphs" xml:space="preserve" >1'-0"</text>
<text x="1112.5" y="416" font-size="12" text-anchor="start" fill="#000" textLength="5" lengthAdjust="spacingAndGlyphs" xml:space="preserve" >1</text>
<line x1="1112" y1="419.2" x2="1119" y2="419.2" stroke="#000" stroke-width="1.1" />
<text x="1112.5" y="428.7" font-size="12" text-anchor="start" fill="#000" textLength="5" lengthAdjust="spacingAndGlyphs" xml:space="preserve" >4</text>
<text x="1119" y="419" font-size="12" text-anchor="start" fill="#000" xml:space="preserve" >"</text>
<line x1="1080" y1="473.1" x2="1206" y2="473.1" stroke="#000" stroke-width="1.0" />
<line x1="1080" y1="506.3" x2="1206" y2="506.3" stroke="#000" stroke-width="1.0" />
<line x1="1195.6" y1="463.2" x2="1195.6" y2="516.3" stroke="#000" stroke-width="1.0" />
<line x1="1191.1" y1="468.6" x2="1200.1" y2="477.6" stroke="#000" stroke-width="2.4" />
<line x1="1191.1" y1="501.8" x2="1200.1" y2="510.8" stroke="#000" stroke-width="2.4" />
<text transform="translate(1228.1,518.9) rotate(-90)" font-size="21.5" textLength="77" lengthAdjust="spacingAndGlyphs">[21.47mm]</text>
<text transform="translate(1218.5,537.8) rotate(-90)" font-size="15.5" textLength="6.7" lengthAdjust="spacingAndGlyphs">7</text>
<text transform="translate(1233.8,537.8) rotate(-90)" font-size="15.5" textLength="6.7" lengthAdjust="spacingAndGlyphs">8</text>
<line x1="1220.2" y1="531.3" x2="1220.2" y2="537.8" stroke="#000" stroke-width="1.2" />
<text transform="translate(1224.5,530) rotate(-90)" font-size="13">"</text>
<polyline points="1139.1,561.2 1087.9,561.2" fill="none" stroke="#1a1a1a" stroke-width="1.1" />
<polygon points="1087.9,561.2 1103.9,558.6 1103.9,563.8" fill="#1a1a1a" stroke="none" stroke-width="1" />
<polyline points="1139,676.1 1107.9,676.1 1063.6,629" fill="none" stroke="#1a1a1a" stroke-width="1.1" />
<polygon points="1063.6,629 1077.83,640.33 1074.04,643.89" fill="#1a1a1a" stroke="none" stroke-width="1" />
<polyline points="1139,790.7 1107.9,790.7 1018.3,677.4" fill="none" stroke="#1a1a1a" stroke-width="1.1" />
<polygon points="1018.3,677.4 1031.5,689.91 1027.43,693.13" fill="#1a1a1a" stroke="none" stroke-width="1" />
<rect x="1143.2" y="547.77" width="95.3" height="25.83" fill="#fff"/>
<text x="1146.2" y="567.6" font-size="20.6" text-anchor="start" fill="#000" textLength="90.3" lengthAdjust="spacingAndGlyphs" xml:space="preserve" >SCHEDULE</text>
<rect x="1143.2" y="572.57" width="105.8" height="25.83" fill="#fff"/>
<text x="1146.2" y="592.4" font-size="20.6" text-anchor="start" fill="#000" textLength="100.8" lengthAdjust="spacingAndGlyphs" xml:space="preserve" >DUFB DRAIN</text>
<rect x="1143.2" y="596.37" width="50.3" height="25.83" fill="#fff"/>
<text x="1146.2" y="616.2" font-size="20.6" text-anchor="start" fill="#000" textLength="45.3" lengthAdjust="spacingAndGlyphs" xml:space="preserve" >BODY</text>
<rect x="1143.2" y="660.87" width="91.8" height="25.83" fill="#fff"/>
<text x="1146.2" y="680.7" font-size="20.6" text-anchor="start" fill="#000" textLength="86.8" lengthAdjust="spacingAndGlyphs" xml:space="preserve" >COUPLING</text>
<rect x="1143.2" y="684.67" width="98.8" height="25.83" fill="#fff"/>
<text x="1146.2" y="704.5" font-size="20.6" text-anchor="start" fill="#000" textLength="93.8" lengthAdjust="spacingAndGlyphs" xml:space="preserve" >WITH HOSE</text>
<rect x="1143.2" y="709.47" width="99.3" height="25.83" fill="#fff"/>
<text x="1146.2" y="729.3" font-size="20.6" text-anchor="start" fill="#000" textLength="94.3" lengthAdjust="spacingAndGlyphs" xml:space="preserve" >CLAMPS BY</text>
<rect x="1143.2" y="733.77" width="73.8" height="25.83" fill="#fff"/>
<text x="1146.2" y="753.6" font-size="20.6" text-anchor="start" fill="#000" textLength="68.8" lengthAdjust="spacingAndGlyphs" xml:space="preserve" >OTHERS</text>
<rect x="1143.2" y="777.27" width="63.8" height="25.83" fill="#fff"/>
<text x="1146.2" y="797.1" font-size="20.6" text-anchor="start" fill="#000" textLength="58.8" lengthAdjust="spacingAndGlyphs" xml:space="preserve" >WASTE</text>
<rect x="1143.2" y="801.57" width="72.8" height="25.83" fill="#fff"/>
<text x="1146.2" y="821.4" font-size="20.6" text-anchor="start" fill="#000" textLength="67.8" lengthAdjust="spacingAndGlyphs" xml:space="preserve" >PIPE  BY</text>
<rect x="1143.2" y="826.37" width="73.8" height="25.83" fill="#fff"/>
<text x="1146.2" y="846.2" font-size="20.6" text-anchor="start" fill="#000" textLength="68.8" lengthAdjust="spacingAndGlyphs" xml:space="preserve" >OTHERS</text>
</svg></body></html>
